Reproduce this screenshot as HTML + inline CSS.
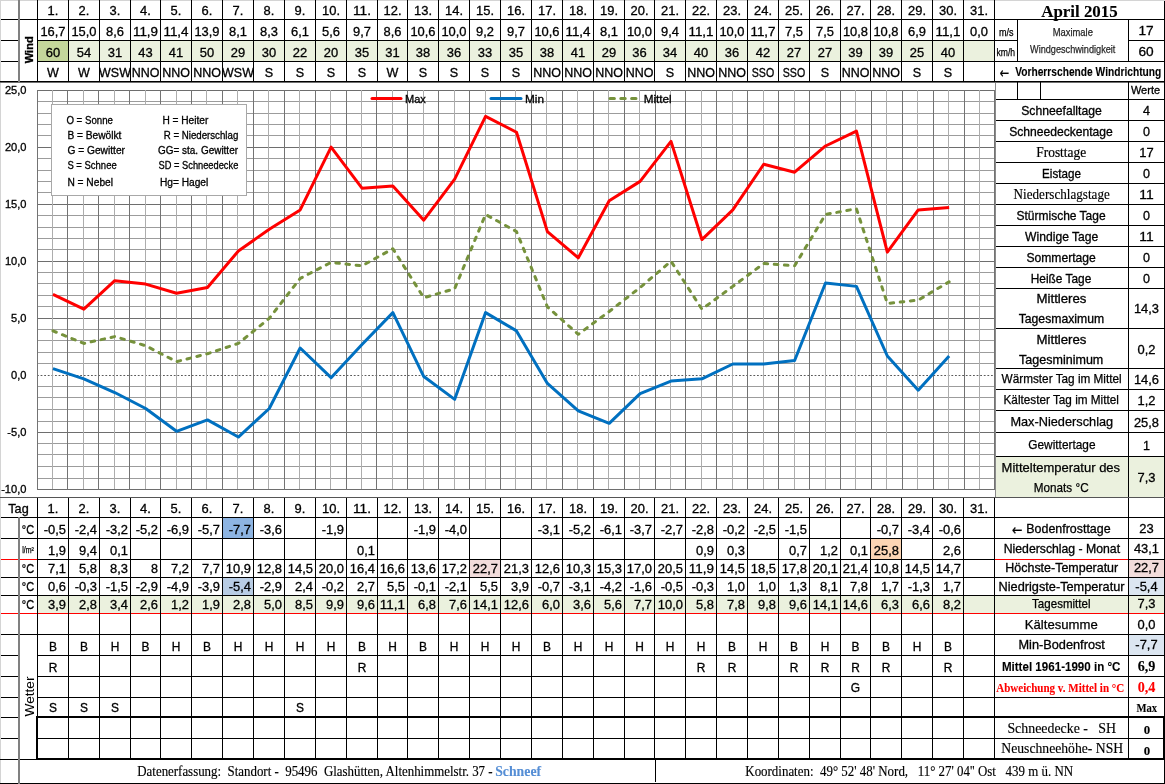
<!DOCTYPE html>
<html><head><meta charset="utf-8"><title>April 2015</title>
<style>html,body{margin:0;padding:0;background:#fff;overflow:hidden}svg{display:block}text{shape-rendering:auto;white-space:pre}polyline,line{shape-rendering:auto}</style>
</head><body>
<svg width="1165" height="784" viewBox="0 0 1165 784" shape-rendering="crispEdges"><rect x="38" y="41" width="30" height="20" fill="#c4d79b"/>
<rect x="69" y="41" width="30" height="20" fill="#ebf1de"/>
<rect x="100" y="41" width="30" height="20" fill="#ebf1de"/>
<rect x="131" y="41" width="29" height="20" fill="#ebf1de"/>
<rect x="161" y="41" width="30" height="20" fill="#ebf1de"/>
<rect x="192" y="41" width="30" height="20" fill="#ebf1de"/>
<rect x="223" y="41" width="30" height="20" fill="#ebf1de"/>
<rect x="254" y="41" width="30" height="20" fill="#ebf1de"/>
<rect x="285" y="41" width="30" height="20" fill="#ebf1de"/>
<rect x="316" y="41" width="30" height="20" fill="#ebf1de"/>
<rect x="347" y="41" width="30" height="20" fill="#ebf1de"/>
<rect x="378" y="41" width="29" height="20" fill="#ebf1de"/>
<rect x="408" y="41" width="30" height="20" fill="#ebf1de"/>
<rect x="439" y="41" width="30" height="20" fill="#ebf1de"/>
<rect x="470" y="41" width="30" height="20" fill="#ebf1de"/>
<rect x="501" y="41" width="30" height="20" fill="#ebf1de"/>
<rect x="532" y="41" width="30" height="20" fill="#ebf1de"/>
<rect x="563" y="41" width="30" height="20" fill="#ebf1de"/>
<rect x="594" y="41" width="30" height="20" fill="#ebf1de"/>
<rect x="625" y="41" width="29" height="20" fill="#ebf1de"/>
<rect x="655" y="41" width="30" height="20" fill="#ebf1de"/>
<rect x="686" y="41" width="30" height="20" fill="#ebf1de"/>
<rect x="717" y="41" width="30" height="20" fill="#ebf1de"/>
<rect x="748" y="41" width="30" height="20" fill="#ebf1de"/>
<rect x="779" y="41" width="30" height="20" fill="#ebf1de"/>
<rect x="810" y="41" width="30" height="20" fill="#ebf1de"/>
<rect x="841" y="41" width="29" height="20" fill="#ebf1de"/>
<rect x="871" y="41" width="30" height="20" fill="#ebf1de"/>
<rect x="902" y="41" width="30" height="20" fill="#ebf1de"/>
<rect x="933" y="41" width="30" height="20" fill="#ebf1de"/>
<rect x="964" y="41" width="30" height="20" fill="#ebf1de"/>
<rect x="38" y="596" width="30" height="17" fill="#ebf1de"/>
<rect x="69" y="596" width="30" height="17" fill="#ebf1de"/>
<rect x="100" y="596" width="30" height="17" fill="#ebf1de"/>
<rect x="131" y="596" width="29" height="17" fill="#ebf1de"/>
<rect x="161" y="596" width="30" height="17" fill="#ebf1de"/>
<rect x="192" y="596" width="30" height="17" fill="#ebf1de"/>
<rect x="223" y="596" width="30" height="17" fill="#ebf1de"/>
<rect x="254" y="596" width="30" height="17" fill="#ebf1de"/>
<rect x="285" y="596" width="30" height="17" fill="#ebf1de"/>
<rect x="316" y="596" width="30" height="17" fill="#ebf1de"/>
<rect x="347" y="596" width="30" height="17" fill="#ebf1de"/>
<rect x="378" y="596" width="29" height="17" fill="#ebf1de"/>
<rect x="408" y="596" width="30" height="17" fill="#ebf1de"/>
<rect x="439" y="596" width="30" height="17" fill="#ebf1de"/>
<rect x="470" y="596" width="30" height="17" fill="#ebf1de"/>
<rect x="501" y="596" width="30" height="17" fill="#ebf1de"/>
<rect x="532" y="596" width="30" height="17" fill="#ebf1de"/>
<rect x="563" y="596" width="30" height="17" fill="#ebf1de"/>
<rect x="594" y="596" width="30" height="17" fill="#ebf1de"/>
<rect x="625" y="596" width="29" height="17" fill="#ebf1de"/>
<rect x="655" y="596" width="30" height="17" fill="#ebf1de"/>
<rect x="686" y="596" width="30" height="17" fill="#ebf1de"/>
<rect x="717" y="596" width="30" height="17" fill="#ebf1de"/>
<rect x="748" y="596" width="30" height="17" fill="#ebf1de"/>
<rect x="779" y="596" width="30" height="17" fill="#ebf1de"/>
<rect x="810" y="596" width="30" height="17" fill="#ebf1de"/>
<rect x="841" y="596" width="29" height="17" fill="#ebf1de"/>
<rect x="871" y="596" width="30" height="17" fill="#ebf1de"/>
<rect x="902" y="596" width="30" height="17" fill="#ebf1de"/>
<rect x="933" y="596" width="30" height="17" fill="#ebf1de"/>
<rect x="964" y="596" width="30" height="17" fill="#ebf1de"/>
<rect x="995" y="596" width="133" height="17" fill="#ebf1de"/>
<rect x="1129" y="596" width="35" height="17" fill="#ebf1de"/>
<rect x="223" y="518" width="30" height="20" fill="#8db4e2"/>
<rect x="223" y="578" width="30" height="17" fill="#b8cce4"/>
<rect x="470" y="560" width="30" height="17" fill="#f2dcdb"/>
<rect x="871" y="539" width="30" height="20" fill="#fcd5b4"/>
<rect x="1129" y="560" width="35" height="17" fill="#f2dcdb"/>
<rect x="1129" y="578" width="35" height="17" fill="#dce6f1"/>
<rect x="1129" y="635" width="35" height="20" fill="#dce6f1"/>
<rect x="996" y="457" width="168" height="40" fill="#ebf1de"/>
<rect x="37" y="489" width="957" height="1" fill="#6e6e6e"/>
<rect x="37" y="478" width="957" height="1" fill="#9c9c9c"/>
<rect x="37" y="466" width="957" height="1" fill="#9c9c9c"/>
<rect x="37" y="454" width="957" height="1" fill="#9c9c9c"/>
<rect x="37" y="443" width="957" height="1" fill="#9c9c9c"/>
<rect x="37" y="432" width="957" height="1" fill="#6e6e6e"/>
<rect x="37" y="421" width="957" height="1" fill="#9c9c9c"/>
<rect x="37" y="409" width="957" height="1" fill="#9c9c9c"/>
<rect x="37" y="397" width="957" height="1" fill="#9c9c9c"/>
<rect x="37" y="386" width="957" height="1" fill="#9c9c9c"/>
<rect x="37" y="363" width="957" height="1" fill="#9c9c9c"/>
<rect x="37" y="352" width="957" height="1" fill="#9c9c9c"/>
<rect x="37" y="340" width="957" height="1" fill="#9c9c9c"/>
<rect x="37" y="329" width="957" height="1" fill="#9c9c9c"/>
<rect x="37" y="318" width="957" height="1" fill="#6e6e6e"/>
<rect x="37" y="306" width="957" height="1" fill="#9c9c9c"/>
<rect x="37" y="295" width="957" height="1" fill="#9c9c9c"/>
<rect x="37" y="283" width="957" height="1" fill="#9c9c9c"/>
<rect x="37" y="272" width="957" height="1" fill="#9c9c9c"/>
<rect x="37" y="261" width="957" height="1" fill="#6e6e6e"/>
<rect x="37" y="249" width="957" height="1" fill="#9c9c9c"/>
<rect x="37" y="238" width="957" height="1" fill="#9c9c9c"/>
<rect x="37" y="227" width="957" height="1" fill="#9c9c9c"/>
<rect x="37" y="215" width="957" height="1" fill="#9c9c9c"/>
<rect x="37" y="204" width="957" height="1" fill="#6e6e6e"/>
<rect x="37" y="192" width="957" height="1" fill="#9c9c9c"/>
<rect x="37" y="181" width="957" height="1" fill="#9c9c9c"/>
<rect x="37" y="170" width="957" height="1" fill="#9c9c9c"/>
<rect x="37" y="158" width="957" height="1" fill="#9c9c9c"/>
<rect x="37" y="147" width="957" height="1" fill="#6e6e6e"/>
<rect x="37" y="135" width="957" height="1" fill="#9c9c9c"/>
<rect x="37" y="124" width="957" height="1" fill="#9c9c9c"/>
<rect x="37" y="113" width="957" height="1" fill="#9c9c9c"/>
<rect x="37" y="101" width="957" height="1" fill="#9c9c9c"/>
<rect x="37" y="90" width="957" height="1" fill="#6e6e6e"/>
<line x1="37" y1="375.5" x2="994" y2="375.5" stroke="#5a5a5a" stroke-width="1" stroke-dasharray="1.8,1.8"/>
<rect x="52" y="90" width="1" height="399" fill="#adadad"/>
<rect x="83" y="90" width="1" height="399" fill="#adadad"/>
<rect x="114" y="90" width="1" height="399" fill="#adadad"/>
<rect x="145" y="90" width="1" height="399" fill="#adadad"/>
<rect x="176" y="90" width="1" height="399" fill="#adadad"/>
<rect x="206" y="90" width="1" height="399" fill="#adadad"/>
<rect x="237" y="90" width="1" height="399" fill="#adadad"/>
<rect x="268" y="90" width="1" height="399" fill="#adadad"/>
<rect x="299" y="90" width="1" height="399" fill="#adadad"/>
<rect x="330" y="90" width="1" height="399" fill="#adadad"/>
<rect x="361" y="90" width="1" height="399" fill="#adadad"/>
<rect x="392" y="90" width="1" height="399" fill="#adadad"/>
<rect x="423" y="90" width="1" height="399" fill="#adadad"/>
<rect x="454" y="90" width="1" height="399" fill="#adadad"/>
<rect x="485" y="90" width="1" height="399" fill="#adadad"/>
<rect x="515" y="90" width="1" height="399" fill="#adadad"/>
<rect x="546" y="90" width="1" height="399" fill="#adadad"/>
<rect x="577" y="90" width="1" height="399" fill="#adadad"/>
<rect x="608" y="90" width="1" height="399" fill="#adadad"/>
<rect x="639" y="90" width="1" height="399" fill="#adadad"/>
<rect x="670" y="90" width="1" height="399" fill="#adadad"/>
<rect x="701" y="90" width="1" height="399" fill="#adadad"/>
<rect x="732" y="90" width="1" height="399" fill="#adadad"/>
<rect x="763" y="90" width="1" height="399" fill="#adadad"/>
<rect x="794" y="90" width="1" height="399" fill="#adadad"/>
<rect x="825" y="90" width="1" height="399" fill="#adadad"/>
<rect x="855" y="90" width="1" height="399" fill="#adadad"/>
<rect x="886" y="90" width="1" height="399" fill="#adadad"/>
<rect x="917" y="90" width="1" height="399" fill="#adadad"/>
<rect x="948" y="90" width="1" height="399" fill="#adadad"/>
<rect x="979" y="90" width="1" height="399" fill="#adadad"/>
<rect x="37" y="90" width="1" height="400" fill="#737373"/>
<rect x="67" y="90" width="1" height="400" fill="#737373"/>
<rect x="98" y="90" width="1" height="400" fill="#737373"/>
<rect x="129" y="90" width="1" height="400" fill="#737373"/>
<rect x="160" y="90" width="1" height="400" fill="#737373"/>
<rect x="191" y="90" width="1" height="400" fill="#737373"/>
<rect x="222" y="90" width="1" height="400" fill="#737373"/>
<rect x="253" y="90" width="1" height="400" fill="#737373"/>
<rect x="284" y="90" width="1" height="400" fill="#737373"/>
<rect x="315" y="90" width="1" height="400" fill="#737373"/>
<rect x="346" y="90" width="1" height="400" fill="#737373"/>
<rect x="376" y="90" width="1" height="400" fill="#737373"/>
<rect x="407" y="90" width="1" height="400" fill="#737373"/>
<rect x="438" y="90" width="1" height="400" fill="#737373"/>
<rect x="469" y="90" width="1" height="400" fill="#737373"/>
<rect x="500" y="90" width="1" height="400" fill="#737373"/>
<rect x="531" y="90" width="1" height="400" fill="#737373"/>
<rect x="562" y="90" width="1" height="400" fill="#737373"/>
<rect x="593" y="90" width="1" height="400" fill="#737373"/>
<rect x="624" y="90" width="1" height="400" fill="#737373"/>
<rect x="655" y="90" width="1" height="400" fill="#737373"/>
<rect x="685" y="90" width="1" height="400" fill="#737373"/>
<rect x="716" y="90" width="1" height="400" fill="#737373"/>
<rect x="747" y="90" width="1" height="400" fill="#737373"/>
<rect x="778" y="90" width="1" height="400" fill="#737373"/>
<rect x="809" y="90" width="1" height="400" fill="#737373"/>
<rect x="840" y="90" width="1" height="400" fill="#737373"/>
<rect x="871" y="90" width="1" height="400" fill="#737373"/>
<rect x="902" y="90" width="1" height="400" fill="#737373"/>
<rect x="933" y="90" width="1" height="400" fill="#737373"/>
<rect x="964" y="90" width="1" height="400" fill="#737373"/>
<rect x="994" y="90" width="1" height="400" fill="#737373"/>
<rect x="51.5" y="104.5" width="195" height="91" fill="#fff" stroke="#a8a8a8" stroke-width="1"/>
<text x="66.40" y="123.70" font-family="Liberation Sans, sans-serif" font-size="10.44" textLength="46.50" lengthAdjust="spacingAndGlyphs" stroke="#000" stroke-width="0.3">O = Sonne</text>
<text x="67.40" y="138.80" font-family="Liberation Sans, sans-serif" font-size="10.44" textLength="54.00" lengthAdjust="spacingAndGlyphs" stroke="#000" stroke-width="0.3">B = Bewölkt</text>
<text x="67.40" y="153.50" font-family="Liberation Sans, sans-serif" font-size="10.44" textLength="57.60" lengthAdjust="spacingAndGlyphs" stroke="#000" stroke-width="0.3">G = Gewitter</text>
<text x="67.40" y="168.70" font-family="Liberation Sans, sans-serif" font-size="10.44" textLength="49.30" lengthAdjust="spacingAndGlyphs" stroke="#000" stroke-width="0.3">S = Schnee</text>
<text x="67.40" y="185.60" font-family="Liberation Sans, sans-serif" font-size="10.44" textLength="45.60" lengthAdjust="spacingAndGlyphs" stroke="#000" stroke-width="0.3">N = Nebel</text>
<text x="162.40" y="123.70" font-family="Liberation Sans, sans-serif" font-size="10.44" textLength="45.90" lengthAdjust="spacingAndGlyphs" stroke="#000" stroke-width="0.3">H = Heiter</text>
<text x="163.70" y="138.80" font-family="Liberation Sans, sans-serif" font-size="10.44" textLength="74.60" lengthAdjust="spacingAndGlyphs" stroke="#000" stroke-width="0.3">R = Niederschlag</text>
<text x="158.00" y="153.50" font-family="Liberation Sans, sans-serif" font-size="10.44" textLength="80.00" lengthAdjust="spacingAndGlyphs" stroke="#000" stroke-width="0.3">GG= sta. Gewitter</text>
<text x="158.60" y="168.70" font-family="Liberation Sans, sans-serif" font-size="10.44" textLength="79.70" lengthAdjust="spacingAndGlyphs" stroke="#000" stroke-width="0.3">SD = Schneedecke</text>
<text x="159.90" y="185.60" font-family="Liberation Sans, sans-serif" font-size="10.44" textLength="48.40" lengthAdjust="spacingAndGlyphs" stroke="#000" stroke-width="0.3">Hg= Hagel</text>
<polyline points="52.95,330.89 83.85,343.44 114.76,336.59 145.66,345.72 176.56,361.70 207.47,353.71 238.37,343.44 269.27,318.33 300.18,278.38 331.08,262.40 361.98,265.83 392.88,248.70 423.79,297.78 454.69,288.65 485.59,214.46 516.50,231.58 547.40,306.92 578.30,334.31 609.21,311.48 640.11,287.51 671.01,261.26 701.91,309.20 732.82,286.37 763.72,263.54 794.62,265.83 825.53,214.46 856.43,208.76 887.33,303.49 918.24,300.07 949.14,281.81" fill="none" stroke="#76923c" stroke-width="3" stroke-dasharray="3.6,6.6" stroke-linecap="round" stroke-linejoin="round"/>
<polyline points="52.95,368.55 83.85,378.82 114.76,392.52 145.66,408.50 176.56,431.33 207.47,419.91 238.37,437.04 269.27,408.50 300.18,348.01 331.08,377.68 361.98,344.58 392.88,312.62 423.79,376.54 454.69,399.37 485.59,312.62 516.50,330.89 547.40,383.39 578.30,410.78 609.21,423.34 640.11,393.66 671.01,381.11 701.91,378.82 732.82,363.99 763.72,363.99 794.62,360.56 825.53,282.95 856.43,286.37 887.33,356.00 918.24,390.24 949.14,356.00" fill="none" stroke="#0070c0" stroke-width="3" stroke-linejoin="round"/>
<polyline points="52.95,294.36 83.85,309.20 114.76,280.66 145.66,284.09 176.56,293.22 207.47,287.51 238.37,250.99 269.27,229.30 300.18,209.90 331.08,147.12 361.98,188.21 392.88,185.93 423.79,220.17 454.69,179.08 485.59,116.30 516.50,132.28 547.40,231.58 578.30,257.84 609.21,200.77 640.11,181.36 671.01,141.41 701.91,239.57 732.82,209.90 763.72,164.24 794.62,172.23 825.53,145.98 856.43,131.14 887.33,252.13 918.24,209.90 949.14,207.61" fill="none" stroke="#ff0000" stroke-width="3" stroke-linejoin="round"/>
<line x1="372" y1="98.5" x2="401" y2="98.5" stroke="#ff0000" stroke-width="3" stroke-linecap="round"/>
<line x1="491" y1="98.5" x2="521" y2="98.5" stroke="#0070c0" stroke-width="3" stroke-linecap="round"/>
<line x1="610" y1="98.5" x2="636" y2="98.5" stroke="#76923c" stroke-width="3" stroke-dasharray="4.4,6.4" stroke-linecap="round"/>
<text x="405.00" y="102.70" font-family="Liberation Sans, sans-serif" font-size="10.44" textLength="20.85" lengthAdjust="spacingAndGlyphs" stroke="#000" stroke-width="0.3">Max</text>
<text x="525.00" y="102.70" font-family="Liberation Sans, sans-serif" font-size="10.44" textLength="19.00" lengthAdjust="spacingAndGlyphs" stroke="#000" stroke-width="0.3">Min</text>
<text x="643.70" y="102.70" font-family="Liberation Sans, sans-serif" font-size="10.44" textLength="28.00" lengthAdjust="spacingAndGlyphs" stroke="#000" stroke-width="0.3">Mittel</text>
<text x="26.50" y="93.95" font-family="Liberation Sans, sans-serif" font-size="10.80" text-anchor="end" textLength="21.59" lengthAdjust="spacingAndGlyphs" stroke="#000" stroke-width="0.3">25,0</text>
<text x="26.50" y="151.02" font-family="Liberation Sans, sans-serif" font-size="10.80" text-anchor="end" textLength="21.59" lengthAdjust="spacingAndGlyphs" stroke="#000" stroke-width="0.3">20,0</text>
<text x="26.50" y="208.09" font-family="Liberation Sans, sans-serif" font-size="10.80" text-anchor="end" textLength="21.59" lengthAdjust="spacingAndGlyphs" stroke="#000" stroke-width="0.3">15,0</text>
<text x="26.50" y="265.16" font-family="Liberation Sans, sans-serif" font-size="10.80" text-anchor="end" textLength="21.59" lengthAdjust="spacingAndGlyphs" stroke="#000" stroke-width="0.3">10,0</text>
<text x="26.50" y="322.23" font-family="Liberation Sans, sans-serif" font-size="10.80" text-anchor="end" textLength="15.41" lengthAdjust="spacingAndGlyphs" stroke="#000" stroke-width="0.3">5,0</text>
<text x="26.50" y="379.30" font-family="Liberation Sans, sans-serif" font-size="10.80" text-anchor="end" textLength="15.41" lengthAdjust="spacingAndGlyphs" stroke="#000" stroke-width="0.3">0,0</text>
<text x="26.50" y="436.37" font-family="Liberation Sans, sans-serif" font-size="10.80" text-anchor="end" textLength="19.15" lengthAdjust="spacingAndGlyphs" stroke="#000" stroke-width="0.3">-5,0</text>
<text x="26.50" y="493.44" font-family="Liberation Sans, sans-serif" font-size="10.80" text-anchor="end" textLength="25.33" lengthAdjust="spacingAndGlyphs" stroke="#000" stroke-width="0.3">-10,0</text>
<rect x="0" y="0" width="1165" height="1" fill="#d4d4d4"/>
<rect x="0" y="0" width="1" height="784" fill="#d4d4d4"/>
<rect x="1" y="19" width="1163" height="1" fill="#000"/>
<rect x="1" y="40" width="17" height="1" fill="#000"/>
<rect x="1" y="61" width="17" height="1" fill="#000"/>
<rect x="37" y="40" width="957" height="1" fill="#000"/>
<rect x="37" y="61" width="1127" height="1" fill="#000"/>
<rect x="994" y="40" width="23" height="1" fill="#000"/>
<rect x="1128" y="40" width="36" height="1" fill="#000"/>
<rect x="0" y="81" width="1165" height="1" fill="#000"/>
<rect x="0" y="82" width="1165" height="1" fill="#707070"/>
<rect x="18" y="0" width="2" height="82" fill="#808080"/>
<rect x="37" y="0" width="1" height="82" fill="#000"/>
<rect x="68" y="0" width="1" height="82" fill="#000"/>
<rect x="99" y="0" width="1" height="82" fill="#000"/>
<rect x="130" y="0" width="1" height="82" fill="#000"/>
<rect x="160" y="0" width="1" height="82" fill="#000"/>
<rect x="191" y="0" width="1" height="82" fill="#000"/>
<rect x="222" y="0" width="1" height="82" fill="#000"/>
<rect x="253" y="0" width="1" height="82" fill="#000"/>
<rect x="284" y="0" width="1" height="82" fill="#000"/>
<rect x="315" y="0" width="1" height="82" fill="#000"/>
<rect x="346" y="0" width="1" height="82" fill="#000"/>
<rect x="377" y="0" width="1" height="82" fill="#000"/>
<rect x="407" y="0" width="1" height="82" fill="#000"/>
<rect x="438" y="0" width="1" height="82" fill="#000"/>
<rect x="469" y="0" width="1" height="82" fill="#000"/>
<rect x="500" y="0" width="1" height="82" fill="#000"/>
<rect x="531" y="0" width="1" height="82" fill="#000"/>
<rect x="562" y="0" width="1" height="82" fill="#000"/>
<rect x="593" y="0" width="1" height="82" fill="#000"/>
<rect x="624" y="0" width="1" height="82" fill="#000"/>
<rect x="654" y="0" width="1" height="82" fill="#000"/>
<rect x="685" y="0" width="1" height="82" fill="#000"/>
<rect x="716" y="0" width="1" height="82" fill="#000"/>
<rect x="747" y="0" width="1" height="82" fill="#000"/>
<rect x="778" y="0" width="1" height="82" fill="#000"/>
<rect x="809" y="0" width="1" height="82" fill="#000"/>
<rect x="840" y="0" width="1" height="82" fill="#000"/>
<rect x="870" y="0" width="1" height="82" fill="#000"/>
<rect x="901" y="0" width="1" height="82" fill="#000"/>
<rect x="932" y="0" width="1" height="82" fill="#000"/>
<rect x="963" y="0" width="1" height="82" fill="#000"/>
<rect x="994" y="0" width="1" height="82" fill="#000"/>
<rect x="1017" y="19" width="1" height="42" fill="#000"/>
<rect x="1128" y="19" width="1" height="42" fill="#000"/>
<rect x="1164" y="1" width="1" height="783" fill="#000"/>
<text x="53.00" y="14.80" font-family="Liberation Sans, sans-serif" font-size="12.57" text-anchor="middle" textLength="10.78" lengthAdjust="spacingAndGlyphs" stroke="#000" stroke-width="0.3">1.</text>
<text x="53.00" y="36.00" font-family="Liberation Sans, sans-serif" font-size="12.57" text-anchor="middle" textLength="25.13" lengthAdjust="spacingAndGlyphs" stroke="#000" stroke-width="0.3">16,7</text>
<text x="53.00" y="56.80" font-family="Liberation Sans, sans-serif" font-size="12.57" text-anchor="middle" textLength="14.39" lengthAdjust="spacingAndGlyphs" stroke="#000" stroke-width="0.3">60</text>
<text x="53.00" y="77.00" font-family="Liberation Sans, sans-serif" font-size="12.57" text-anchor="middle" stroke="#000" stroke-width="0.3">W</text>
<text x="84.00" y="14.80" font-family="Liberation Sans, sans-serif" font-size="12.57" text-anchor="middle" textLength="10.78" lengthAdjust="spacingAndGlyphs" stroke="#000" stroke-width="0.3">2.</text>
<text x="84.00" y="36.00" font-family="Liberation Sans, sans-serif" font-size="12.57" text-anchor="middle" textLength="25.13" lengthAdjust="spacingAndGlyphs" stroke="#000" stroke-width="0.3">15,0</text>
<text x="84.00" y="56.80" font-family="Liberation Sans, sans-serif" font-size="12.57" text-anchor="middle" textLength="14.39" lengthAdjust="spacingAndGlyphs" stroke="#000" stroke-width="0.3">54</text>
<text x="84.00" y="77.00" font-family="Liberation Sans, sans-serif" font-size="12.57" text-anchor="middle" stroke="#000" stroke-width="0.3">W</text>
<text x="115.00" y="14.80" font-family="Liberation Sans, sans-serif" font-size="12.57" text-anchor="middle" textLength="10.78" lengthAdjust="spacingAndGlyphs" stroke="#000" stroke-width="0.3">3.</text>
<text x="115.00" y="36.00" font-family="Liberation Sans, sans-serif" font-size="12.57" text-anchor="middle" textLength="17.94" lengthAdjust="spacingAndGlyphs" stroke="#000" stroke-width="0.3">8,6</text>
<text x="115.00" y="56.80" font-family="Liberation Sans, sans-serif" font-size="12.57" text-anchor="middle" textLength="14.39" lengthAdjust="spacingAndGlyphs" stroke="#000" stroke-width="0.3">31</text>
<text x="115.00" y="77.00" font-family="Liberation Sans, sans-serif" font-size="12.57" text-anchor="middle" textLength="31.79" lengthAdjust="spacingAndGlyphs" stroke="#000" stroke-width="0.3">WSW</text>
<text x="145.50" y="14.80" font-family="Liberation Sans, sans-serif" font-size="12.57" text-anchor="middle" textLength="10.78" lengthAdjust="spacingAndGlyphs" stroke="#000" stroke-width="0.3">4.</text>
<text x="145.50" y="36.00" font-family="Liberation Sans, sans-serif" font-size="12.57" text-anchor="middle" textLength="25.13" lengthAdjust="spacingAndGlyphs" stroke="#000" stroke-width="0.3">11,9</text>
<text x="145.50" y="56.80" font-family="Liberation Sans, sans-serif" font-size="12.57" text-anchor="middle" textLength="14.39" lengthAdjust="spacingAndGlyphs" stroke="#000" stroke-width="0.3">43</text>
<text x="145.50" y="77.00" font-family="Liberation Sans, sans-serif" font-size="12.57" text-anchor="middle" textLength="27.73" lengthAdjust="spacingAndGlyphs" stroke="#000" stroke-width="0.3">NNO</text>
<text x="176.00" y="14.80" font-family="Liberation Sans, sans-serif" font-size="12.57" text-anchor="middle" textLength="10.78" lengthAdjust="spacingAndGlyphs" stroke="#000" stroke-width="0.3">5.</text>
<text x="176.00" y="36.00" font-family="Liberation Sans, sans-serif" font-size="12.57" text-anchor="middle" textLength="25.13" lengthAdjust="spacingAndGlyphs" stroke="#000" stroke-width="0.3">11,4</text>
<text x="176.00" y="56.80" font-family="Liberation Sans, sans-serif" font-size="12.57" text-anchor="middle" textLength="14.39" lengthAdjust="spacingAndGlyphs" stroke="#000" stroke-width="0.3">41</text>
<text x="176.00" y="77.00" font-family="Liberation Sans, sans-serif" font-size="12.57" text-anchor="middle" textLength="27.73" lengthAdjust="spacingAndGlyphs" stroke="#000" stroke-width="0.3">NNO</text>
<text x="207.00" y="14.80" font-family="Liberation Sans, sans-serif" font-size="12.57" text-anchor="middle" textLength="10.78" lengthAdjust="spacingAndGlyphs" stroke="#000" stroke-width="0.3">6.</text>
<text x="207.00" y="36.00" font-family="Liberation Sans, sans-serif" font-size="12.57" text-anchor="middle" textLength="25.13" lengthAdjust="spacingAndGlyphs" stroke="#000" stroke-width="0.3">13,9</text>
<text x="207.00" y="56.80" font-family="Liberation Sans, sans-serif" font-size="12.57" text-anchor="middle" textLength="14.39" lengthAdjust="spacingAndGlyphs" stroke="#000" stroke-width="0.3">50</text>
<text x="207.00" y="77.00" font-family="Liberation Sans, sans-serif" font-size="12.57" text-anchor="middle" textLength="27.73" lengthAdjust="spacingAndGlyphs" stroke="#000" stroke-width="0.3">NNO</text>
<text x="238.00" y="14.80" font-family="Liberation Sans, sans-serif" font-size="12.57" text-anchor="middle" textLength="10.78" lengthAdjust="spacingAndGlyphs" stroke="#000" stroke-width="0.3">7.</text>
<text x="238.00" y="36.00" font-family="Liberation Sans, sans-serif" font-size="12.57" text-anchor="middle" textLength="17.94" lengthAdjust="spacingAndGlyphs" stroke="#000" stroke-width="0.3">8,1</text>
<text x="238.00" y="56.80" font-family="Liberation Sans, sans-serif" font-size="12.57" text-anchor="middle" textLength="14.39" lengthAdjust="spacingAndGlyphs" stroke="#000" stroke-width="0.3">29</text>
<text x="238.00" y="77.00" font-family="Liberation Sans, sans-serif" font-size="12.57" text-anchor="middle" textLength="31.79" lengthAdjust="spacingAndGlyphs" stroke="#000" stroke-width="0.3">WSW</text>
<text x="269.00" y="14.80" font-family="Liberation Sans, sans-serif" font-size="12.57" text-anchor="middle" textLength="10.78" lengthAdjust="spacingAndGlyphs" stroke="#000" stroke-width="0.3">8.</text>
<text x="269.00" y="36.00" font-family="Liberation Sans, sans-serif" font-size="12.57" text-anchor="middle" textLength="17.94" lengthAdjust="spacingAndGlyphs" stroke="#000" stroke-width="0.3">8,3</text>
<text x="269.00" y="56.80" font-family="Liberation Sans, sans-serif" font-size="12.57" text-anchor="middle" textLength="14.39" lengthAdjust="spacingAndGlyphs" stroke="#000" stroke-width="0.3">30</text>
<text x="269.00" y="77.00" font-family="Liberation Sans, sans-serif" font-size="12.57" text-anchor="middle" stroke="#000" stroke-width="0.3">S</text>
<text x="300.00" y="14.80" font-family="Liberation Sans, sans-serif" font-size="12.57" text-anchor="middle" textLength="10.78" lengthAdjust="spacingAndGlyphs" stroke="#000" stroke-width="0.3">9.</text>
<text x="300.00" y="36.00" font-family="Liberation Sans, sans-serif" font-size="12.57" text-anchor="middle" textLength="17.94" lengthAdjust="spacingAndGlyphs" stroke="#000" stroke-width="0.3">6,1</text>
<text x="300.00" y="56.80" font-family="Liberation Sans, sans-serif" font-size="12.57" text-anchor="middle" textLength="14.39" lengthAdjust="spacingAndGlyphs" stroke="#000" stroke-width="0.3">22</text>
<text x="300.00" y="77.00" font-family="Liberation Sans, sans-serif" font-size="12.57" text-anchor="middle" stroke="#000" stroke-width="0.3">S</text>
<text x="331.00" y="14.80" font-family="Liberation Sans, sans-serif" font-size="12.57" text-anchor="middle" textLength="17.98" lengthAdjust="spacingAndGlyphs" stroke="#000" stroke-width="0.3">10.</text>
<text x="331.00" y="36.00" font-family="Liberation Sans, sans-serif" font-size="12.57" text-anchor="middle" textLength="17.94" lengthAdjust="spacingAndGlyphs" stroke="#000" stroke-width="0.3">5,6</text>
<text x="331.00" y="56.80" font-family="Liberation Sans, sans-serif" font-size="12.57" text-anchor="middle" textLength="14.39" lengthAdjust="spacingAndGlyphs" stroke="#000" stroke-width="0.3">20</text>
<text x="331.00" y="77.00" font-family="Liberation Sans, sans-serif" font-size="12.57" text-anchor="middle" stroke="#000" stroke-width="0.3">S</text>
<text x="362.00" y="14.80" font-family="Liberation Sans, sans-serif" font-size="12.57" text-anchor="middle" textLength="17.98" lengthAdjust="spacingAndGlyphs" stroke="#000" stroke-width="0.3">11.</text>
<text x="362.00" y="36.00" font-family="Liberation Sans, sans-serif" font-size="12.57" text-anchor="middle" textLength="17.94" lengthAdjust="spacingAndGlyphs" stroke="#000" stroke-width="0.3">9,7</text>
<text x="362.00" y="56.80" font-family="Liberation Sans, sans-serif" font-size="12.57" text-anchor="middle" textLength="14.39" lengthAdjust="spacingAndGlyphs" stroke="#000" stroke-width="0.3">35</text>
<text x="362.00" y="77.00" font-family="Liberation Sans, sans-serif" font-size="12.57" text-anchor="middle" stroke="#000" stroke-width="0.3">S</text>
<text x="392.50" y="14.80" font-family="Liberation Sans, sans-serif" font-size="12.57" text-anchor="middle" textLength="17.98" lengthAdjust="spacingAndGlyphs" stroke="#000" stroke-width="0.3">12.</text>
<text x="392.50" y="36.00" font-family="Liberation Sans, sans-serif" font-size="12.57" text-anchor="middle" textLength="17.94" lengthAdjust="spacingAndGlyphs" stroke="#000" stroke-width="0.3">8,6</text>
<text x="392.50" y="56.80" font-family="Liberation Sans, sans-serif" font-size="12.57" text-anchor="middle" textLength="14.39" lengthAdjust="spacingAndGlyphs" stroke="#000" stroke-width="0.3">31</text>
<text x="392.50" y="77.00" font-family="Liberation Sans, sans-serif" font-size="12.57" text-anchor="middle" stroke="#000" stroke-width="0.3">W</text>
<text x="423.00" y="14.80" font-family="Liberation Sans, sans-serif" font-size="12.57" text-anchor="middle" textLength="17.98" lengthAdjust="spacingAndGlyphs" stroke="#000" stroke-width="0.3">13.</text>
<text x="423.00" y="36.00" font-family="Liberation Sans, sans-serif" font-size="12.57" text-anchor="middle" textLength="25.13" lengthAdjust="spacingAndGlyphs" stroke="#000" stroke-width="0.3">10,6</text>
<text x="423.00" y="56.80" font-family="Liberation Sans, sans-serif" font-size="12.57" text-anchor="middle" textLength="14.39" lengthAdjust="spacingAndGlyphs" stroke="#000" stroke-width="0.3">38</text>
<text x="423.00" y="77.00" font-family="Liberation Sans, sans-serif" font-size="12.57" text-anchor="middle" stroke="#000" stroke-width="0.3">S</text>
<text x="454.00" y="14.80" font-family="Liberation Sans, sans-serif" font-size="12.57" text-anchor="middle" textLength="17.98" lengthAdjust="spacingAndGlyphs" stroke="#000" stroke-width="0.3">14.</text>
<text x="454.00" y="36.00" font-family="Liberation Sans, sans-serif" font-size="12.57" text-anchor="middle" textLength="25.13" lengthAdjust="spacingAndGlyphs" stroke="#000" stroke-width="0.3">10,0</text>
<text x="454.00" y="56.80" font-family="Liberation Sans, sans-serif" font-size="12.57" text-anchor="middle" textLength="14.39" lengthAdjust="spacingAndGlyphs" stroke="#000" stroke-width="0.3">36</text>
<text x="454.00" y="77.00" font-family="Liberation Sans, sans-serif" font-size="12.57" text-anchor="middle" stroke="#000" stroke-width="0.3">S</text>
<text x="485.00" y="14.80" font-family="Liberation Sans, sans-serif" font-size="12.57" text-anchor="middle" textLength="17.98" lengthAdjust="spacingAndGlyphs" stroke="#000" stroke-width="0.3">15.</text>
<text x="485.00" y="36.00" font-family="Liberation Sans, sans-serif" font-size="12.57" text-anchor="middle" textLength="17.94" lengthAdjust="spacingAndGlyphs" stroke="#000" stroke-width="0.3">9,2</text>
<text x="485.00" y="56.80" font-family="Liberation Sans, sans-serif" font-size="12.57" text-anchor="middle" textLength="14.39" lengthAdjust="spacingAndGlyphs" stroke="#000" stroke-width="0.3">33</text>
<text x="485.00" y="77.00" font-family="Liberation Sans, sans-serif" font-size="12.57" text-anchor="middle" stroke="#000" stroke-width="0.3">S</text>
<text x="516.00" y="14.80" font-family="Liberation Sans, sans-serif" font-size="12.57" text-anchor="middle" textLength="17.98" lengthAdjust="spacingAndGlyphs" stroke="#000" stroke-width="0.3">16.</text>
<text x="516.00" y="36.00" font-family="Liberation Sans, sans-serif" font-size="12.57" text-anchor="middle" textLength="17.94" lengthAdjust="spacingAndGlyphs" stroke="#000" stroke-width="0.3">9,7</text>
<text x="516.00" y="56.80" font-family="Liberation Sans, sans-serif" font-size="12.57" text-anchor="middle" textLength="14.39" lengthAdjust="spacingAndGlyphs" stroke="#000" stroke-width="0.3">35</text>
<text x="516.00" y="77.00" font-family="Liberation Sans, sans-serif" font-size="12.57" text-anchor="middle" stroke="#000" stroke-width="0.3">S</text>
<text x="547.00" y="14.80" font-family="Liberation Sans, sans-serif" font-size="12.57" text-anchor="middle" textLength="17.98" lengthAdjust="spacingAndGlyphs" stroke="#000" stroke-width="0.3">17.</text>
<text x="547.00" y="36.00" font-family="Liberation Sans, sans-serif" font-size="12.57" text-anchor="middle" textLength="25.13" lengthAdjust="spacingAndGlyphs" stroke="#000" stroke-width="0.3">10,6</text>
<text x="547.00" y="56.80" font-family="Liberation Sans, sans-serif" font-size="12.57" text-anchor="middle" textLength="14.39" lengthAdjust="spacingAndGlyphs" stroke="#000" stroke-width="0.3">38</text>
<text x="547.00" y="77.00" font-family="Liberation Sans, sans-serif" font-size="12.57" text-anchor="middle" textLength="27.73" lengthAdjust="spacingAndGlyphs" stroke="#000" stroke-width="0.3">NNO</text>
<text x="578.00" y="14.80" font-family="Liberation Sans, sans-serif" font-size="12.57" text-anchor="middle" textLength="17.98" lengthAdjust="spacingAndGlyphs" stroke="#000" stroke-width="0.3">18.</text>
<text x="578.00" y="36.00" font-family="Liberation Sans, sans-serif" font-size="12.57" text-anchor="middle" textLength="25.13" lengthAdjust="spacingAndGlyphs" stroke="#000" stroke-width="0.3">11,4</text>
<text x="578.00" y="56.80" font-family="Liberation Sans, sans-serif" font-size="12.57" text-anchor="middle" textLength="14.39" lengthAdjust="spacingAndGlyphs" stroke="#000" stroke-width="0.3">41</text>
<text x="578.00" y="77.00" font-family="Liberation Sans, sans-serif" font-size="12.57" text-anchor="middle" textLength="27.73" lengthAdjust="spacingAndGlyphs" stroke="#000" stroke-width="0.3">NNO</text>
<text x="609.00" y="14.80" font-family="Liberation Sans, sans-serif" font-size="12.57" text-anchor="middle" textLength="17.98" lengthAdjust="spacingAndGlyphs" stroke="#000" stroke-width="0.3">19.</text>
<text x="609.00" y="36.00" font-family="Liberation Sans, sans-serif" font-size="12.57" text-anchor="middle" textLength="17.94" lengthAdjust="spacingAndGlyphs" stroke="#000" stroke-width="0.3">8,1</text>
<text x="609.00" y="56.80" font-family="Liberation Sans, sans-serif" font-size="12.57" text-anchor="middle" textLength="14.39" lengthAdjust="spacingAndGlyphs" stroke="#000" stroke-width="0.3">29</text>
<text x="609.00" y="77.00" font-family="Liberation Sans, sans-serif" font-size="12.57" text-anchor="middle" textLength="27.73" lengthAdjust="spacingAndGlyphs" stroke="#000" stroke-width="0.3">NNO</text>
<text x="639.50" y="14.80" font-family="Liberation Sans, sans-serif" font-size="12.57" text-anchor="middle" textLength="17.98" lengthAdjust="spacingAndGlyphs" stroke="#000" stroke-width="0.3">20.</text>
<text x="639.50" y="36.00" font-family="Liberation Sans, sans-serif" font-size="12.57" text-anchor="middle" textLength="25.13" lengthAdjust="spacingAndGlyphs" stroke="#000" stroke-width="0.3">10,0</text>
<text x="639.50" y="56.80" font-family="Liberation Sans, sans-serif" font-size="12.57" text-anchor="middle" textLength="14.39" lengthAdjust="spacingAndGlyphs" stroke="#000" stroke-width="0.3">36</text>
<text x="639.50" y="77.00" font-family="Liberation Sans, sans-serif" font-size="12.57" text-anchor="middle" textLength="27.73" lengthAdjust="spacingAndGlyphs" stroke="#000" stroke-width="0.3">NNO</text>
<text x="670.00" y="14.80" font-family="Liberation Sans, sans-serif" font-size="12.57" text-anchor="middle" textLength="17.98" lengthAdjust="spacingAndGlyphs" stroke="#000" stroke-width="0.3">21.</text>
<text x="670.00" y="36.00" font-family="Liberation Sans, sans-serif" font-size="12.57" text-anchor="middle" textLength="17.94" lengthAdjust="spacingAndGlyphs" stroke="#000" stroke-width="0.3">9,4</text>
<text x="670.00" y="56.80" font-family="Liberation Sans, sans-serif" font-size="12.57" text-anchor="middle" textLength="14.39" lengthAdjust="spacingAndGlyphs" stroke="#000" stroke-width="0.3">34</text>
<text x="670.00" y="77.00" font-family="Liberation Sans, sans-serif" font-size="12.57" text-anchor="middle" stroke="#000" stroke-width="0.3">S</text>
<text x="701.00" y="14.80" font-family="Liberation Sans, sans-serif" font-size="12.57" text-anchor="middle" textLength="17.98" lengthAdjust="spacingAndGlyphs" stroke="#000" stroke-width="0.3">22.</text>
<text x="701.00" y="36.00" font-family="Liberation Sans, sans-serif" font-size="12.57" text-anchor="middle" textLength="25.13" lengthAdjust="spacingAndGlyphs" stroke="#000" stroke-width="0.3">11,1</text>
<text x="701.00" y="56.80" font-family="Liberation Sans, sans-serif" font-size="12.57" text-anchor="middle" textLength="14.39" lengthAdjust="spacingAndGlyphs" stroke="#000" stroke-width="0.3">40</text>
<text x="701.00" y="77.00" font-family="Liberation Sans, sans-serif" font-size="12.57" text-anchor="middle" textLength="27.73" lengthAdjust="spacingAndGlyphs" stroke="#000" stroke-width="0.3">NNO</text>
<text x="732.00" y="14.80" font-family="Liberation Sans, sans-serif" font-size="12.57" text-anchor="middle" textLength="17.98" lengthAdjust="spacingAndGlyphs" stroke="#000" stroke-width="0.3">23.</text>
<text x="732.00" y="36.00" font-family="Liberation Sans, sans-serif" font-size="12.57" text-anchor="middle" textLength="25.13" lengthAdjust="spacingAndGlyphs" stroke="#000" stroke-width="0.3">10,0</text>
<text x="732.00" y="56.80" font-family="Liberation Sans, sans-serif" font-size="12.57" text-anchor="middle" textLength="14.39" lengthAdjust="spacingAndGlyphs" stroke="#000" stroke-width="0.3">36</text>
<text x="732.00" y="77.00" font-family="Liberation Sans, sans-serif" font-size="12.57" text-anchor="middle" textLength="27.73" lengthAdjust="spacingAndGlyphs" stroke="#000" stroke-width="0.3">NNO</text>
<text x="763.00" y="14.80" font-family="Liberation Sans, sans-serif" font-size="12.57" text-anchor="middle" textLength="17.98" lengthAdjust="spacingAndGlyphs" stroke="#000" stroke-width="0.3">24.</text>
<text x="763.00" y="36.00" font-family="Liberation Sans, sans-serif" font-size="12.57" text-anchor="middle" textLength="25.13" lengthAdjust="spacingAndGlyphs" stroke="#000" stroke-width="0.3">11,7</text>
<text x="763.00" y="56.80" font-family="Liberation Sans, sans-serif" font-size="12.57" text-anchor="middle" textLength="14.39" lengthAdjust="spacingAndGlyphs" stroke="#000" stroke-width="0.3">42</text>
<text x="763.00" y="77.00" font-family="Liberation Sans, sans-serif" font-size="12.57" text-anchor="middle" textLength="22.45" lengthAdjust="spacingAndGlyphs" stroke="#000" stroke-width="0.3">SSO</text>
<text x="794.00" y="14.80" font-family="Liberation Sans, sans-serif" font-size="12.57" text-anchor="middle" textLength="17.98" lengthAdjust="spacingAndGlyphs" stroke="#000" stroke-width="0.3">25.</text>
<text x="794.00" y="36.00" font-family="Liberation Sans, sans-serif" font-size="12.57" text-anchor="middle" textLength="17.94" lengthAdjust="spacingAndGlyphs" stroke="#000" stroke-width="0.3">7,5</text>
<text x="794.00" y="56.80" font-family="Liberation Sans, sans-serif" font-size="12.57" text-anchor="middle" textLength="14.39" lengthAdjust="spacingAndGlyphs" stroke="#000" stroke-width="0.3">27</text>
<text x="794.00" y="77.00" font-family="Liberation Sans, sans-serif" font-size="12.57" text-anchor="middle" textLength="22.45" lengthAdjust="spacingAndGlyphs" stroke="#000" stroke-width="0.3">SSO</text>
<text x="825.00" y="14.80" font-family="Liberation Sans, sans-serif" font-size="12.57" text-anchor="middle" textLength="17.98" lengthAdjust="spacingAndGlyphs" stroke="#000" stroke-width="0.3">26.</text>
<text x="825.00" y="36.00" font-family="Liberation Sans, sans-serif" font-size="12.57" text-anchor="middle" textLength="17.94" lengthAdjust="spacingAndGlyphs" stroke="#000" stroke-width="0.3">7,5</text>
<text x="825.00" y="56.80" font-family="Liberation Sans, sans-serif" font-size="12.57" text-anchor="middle" textLength="14.39" lengthAdjust="spacingAndGlyphs" stroke="#000" stroke-width="0.3">27</text>
<text x="825.00" y="77.00" font-family="Liberation Sans, sans-serif" font-size="12.57" text-anchor="middle" stroke="#000" stroke-width="0.3">S</text>
<text x="855.50" y="14.80" font-family="Liberation Sans, sans-serif" font-size="12.57" text-anchor="middle" textLength="17.98" lengthAdjust="spacingAndGlyphs" stroke="#000" stroke-width="0.3">27.</text>
<text x="855.50" y="36.00" font-family="Liberation Sans, sans-serif" font-size="12.57" text-anchor="middle" textLength="25.13" lengthAdjust="spacingAndGlyphs" stroke="#000" stroke-width="0.3">10,8</text>
<text x="855.50" y="56.80" font-family="Liberation Sans, sans-serif" font-size="12.57" text-anchor="middle" textLength="14.39" lengthAdjust="spacingAndGlyphs" stroke="#000" stroke-width="0.3">39</text>
<text x="855.50" y="77.00" font-family="Liberation Sans, sans-serif" font-size="12.57" text-anchor="middle" textLength="27.73" lengthAdjust="spacingAndGlyphs" stroke="#000" stroke-width="0.3">NNO</text>
<text x="886.00" y="14.80" font-family="Liberation Sans, sans-serif" font-size="12.57" text-anchor="middle" textLength="17.98" lengthAdjust="spacingAndGlyphs" stroke="#000" stroke-width="0.3">28.</text>
<text x="886.00" y="36.00" font-family="Liberation Sans, sans-serif" font-size="12.57" text-anchor="middle" textLength="25.13" lengthAdjust="spacingAndGlyphs" stroke="#000" stroke-width="0.3">10,8</text>
<text x="886.00" y="56.80" font-family="Liberation Sans, sans-serif" font-size="12.57" text-anchor="middle" textLength="14.39" lengthAdjust="spacingAndGlyphs" stroke="#000" stroke-width="0.3">39</text>
<text x="886.00" y="77.00" font-family="Liberation Sans, sans-serif" font-size="12.57" text-anchor="middle" textLength="27.73" lengthAdjust="spacingAndGlyphs" stroke="#000" stroke-width="0.3">NNO</text>
<text x="917.00" y="14.80" font-family="Liberation Sans, sans-serif" font-size="12.57" text-anchor="middle" textLength="17.98" lengthAdjust="spacingAndGlyphs" stroke="#000" stroke-width="0.3">29.</text>
<text x="917.00" y="36.00" font-family="Liberation Sans, sans-serif" font-size="12.57" text-anchor="middle" textLength="17.94" lengthAdjust="spacingAndGlyphs" stroke="#000" stroke-width="0.3">6,9</text>
<text x="917.00" y="56.80" font-family="Liberation Sans, sans-serif" font-size="12.57" text-anchor="middle" textLength="14.39" lengthAdjust="spacingAndGlyphs" stroke="#000" stroke-width="0.3">25</text>
<text x="917.00" y="77.00" font-family="Liberation Sans, sans-serif" font-size="12.57" text-anchor="middle" stroke="#000" stroke-width="0.3">S</text>
<text x="948.00" y="14.80" font-family="Liberation Sans, sans-serif" font-size="12.57" text-anchor="middle" textLength="17.98" lengthAdjust="spacingAndGlyphs" stroke="#000" stroke-width="0.3">30.</text>
<text x="948.00" y="36.00" font-family="Liberation Sans, sans-serif" font-size="12.57" text-anchor="middle" textLength="25.13" lengthAdjust="spacingAndGlyphs" stroke="#000" stroke-width="0.3">11,1</text>
<text x="948.00" y="56.80" font-family="Liberation Sans, sans-serif" font-size="12.57" text-anchor="middle" textLength="14.39" lengthAdjust="spacingAndGlyphs" stroke="#000" stroke-width="0.3">40</text>
<text x="948.00" y="77.00" font-family="Liberation Sans, sans-serif" font-size="12.57" text-anchor="middle" stroke="#000" stroke-width="0.3">S</text>
<text x="979.00" y="14.80" font-family="Liberation Sans, sans-serif" font-size="12.57" text-anchor="middle" textLength="17.98" lengthAdjust="spacingAndGlyphs" stroke="#000" stroke-width="0.3">31.</text>
<text x="979.00" y="36.00" font-family="Liberation Sans, sans-serif" font-size="12.57" text-anchor="middle" textLength="17.94" lengthAdjust="spacingAndGlyphs" stroke="#000" stroke-width="0.3">0,0</text>
<text transform="translate(33.3,49.8) rotate(-90)" font-family="Liberation Sans, sans-serif" font-weight="bold" font-size="10.5" text-anchor="middle" textLength="27" lengthAdjust="spacingAndGlyphs" stroke="#000" stroke-width="0.3">Wind</text>
<text x="1079.45" y="17.00" font-family="Liberation Serif, sans-serif" font-size="17.00" text-anchor="middle" font-weight="bold" stroke="#000" stroke-width="0.1" textLength="76.50" lengthAdjust="spacingAndGlyphs">April 2015</text>
<text x="1006.30" y="35.70" font-family="Liberation Sans, sans-serif" font-size="10.50" text-anchor="middle" stroke="#000" stroke-width="0.25" textLength="14.60" lengthAdjust="spacingAndGlyphs">m/s</text>
<text x="1005.80" y="56.30" font-family="Liberation Sans, sans-serif" font-size="10.50" text-anchor="middle" stroke="#000" stroke-width="0.25" textLength="18.60" lengthAdjust="spacingAndGlyphs">km/h</text>
<text x="1072.80" y="35.70" font-family="Liberation Sans, sans-serif" font-size="11.50" text-anchor="middle" fill="#262626" stroke="#262626" stroke-width="0.25" textLength="40.20" lengthAdjust="spacingAndGlyphs">Maximale</text>
<text x="1072.70" y="52.60" font-family="Liberation Sans, sans-serif" font-size="11.50" text-anchor="middle" fill="#262626" stroke="#262626" stroke-width="0.25" textLength="85.40" lengthAdjust="spacingAndGlyphs">Windgeschwindigkeit</text>
<text x="1146.00" y="35.30" font-family="Liberation Sans, sans-serif" font-size="13.28" text-anchor="middle" textLength="15.21" lengthAdjust="spacingAndGlyphs" stroke="#000" stroke-width="0.3">17</text>
<text x="1146.00" y="56.30" font-family="Liberation Sans, sans-serif" font-size="13.28" text-anchor="middle" textLength="15.21" lengthAdjust="spacingAndGlyphs" stroke="#000" stroke-width="0.3">60</text>
<text x="1004.3" y="77.5" font-family="DejaVu Sans, sans-serif" font-size="15" text-anchor="middle" textLength="9.5" lengthAdjust="spacingAndGlyphs" stroke="#000" stroke-width="0.25">←</text>
<text x="1088.25" y="76.00" font-family="Liberation Sans, sans-serif" font-size="12.00" text-anchor="middle" font-weight="bold" stroke="#000" stroke-width="0.1" textLength="146.10" lengthAdjust="spacingAndGlyphs">Vorherrschende Windrichtung</text>
<rect x="996" y="99" width="168" height="1" fill="#000"/>
<rect x="996" y="120" width="168" height="1" fill="#000"/>
<rect x="996" y="141" width="168" height="1" fill="#000"/>
<rect x="996" y="162" width="168" height="1" fill="#000"/>
<rect x="996" y="183" width="168" height="1" fill="#000"/>
<rect x="996" y="204" width="168" height="1" fill="#000"/>
<rect x="996" y="225" width="168" height="1" fill="#000"/>
<rect x="996" y="246" width="168" height="1" fill="#000"/>
<rect x="996" y="267" width="168" height="1" fill="#000"/>
<rect x="996" y="288" width="168" height="1" fill="#000"/>
<rect x="996" y="328" width="168" height="1" fill="#000"/>
<rect x="996" y="368" width="168" height="1" fill="#000"/>
<rect x="996" y="389" width="168" height="1" fill="#000"/>
<rect x="996" y="410" width="168" height="1" fill="#000"/>
<rect x="996" y="432" width="168" height="1" fill="#000"/>
<rect x="996" y="456" width="168" height="1" fill="#000"/>
<rect x="1128" y="82" width="1" height="415" fill="#000"/>
<rect x="995" y="83" width="1" height="414" fill="#8a8a8a"/>
<rect x="1017" y="82" width="1" height="17" fill="#000"/>
<rect x="1040" y="82" width="1" height="17" fill="#000"/>
<text x="1145.50" y="94.40" font-family="Liberation Sans, sans-serif" font-size="11.00" text-anchor="middle" stroke="#000" stroke-width="0.3" textLength="29.20" lengthAdjust="spacingAndGlyphs">Werte</text>
<text x="1061.50" y="115.10" font-family="Liberation Sans, sans-serif" font-size="12.40" text-anchor="middle" stroke="#000" stroke-width="0.3" textLength="80.60" lengthAdjust="spacingAndGlyphs">Schneefalltage</text>
<text x="1061.00" y="135.70" font-family="Liberation Sans, sans-serif" font-size="12.40" text-anchor="middle" stroke="#000" stroke-width="0.3" textLength="103.60" lengthAdjust="spacingAndGlyphs">Schneedeckentage</text>
<text x="1061.20" y="156.60" font-family="Liberation Serif, sans-serif" font-size="14.20" text-anchor="middle" stroke="#000" stroke-width="0.2" textLength="49.80" lengthAdjust="spacingAndGlyphs">Frosttage</text>
<text x="1061.50" y="177.80" font-family="Liberation Sans, sans-serif" font-size="12.40" text-anchor="middle" stroke="#000" stroke-width="0.3" textLength="38.80" lengthAdjust="spacingAndGlyphs">Eistage</text>
<text x="1061.70" y="198.50" font-family="Liberation Serif, sans-serif" font-size="14.80" text-anchor="middle" stroke="#000" stroke-width="0.15" textLength="96.20" lengthAdjust="spacingAndGlyphs">Niederschlagstage</text>
<text x="1061.05" y="219.60" font-family="Liberation Sans, sans-serif" font-size="12.40" text-anchor="middle" stroke="#000" stroke-width="0.3" textLength="89.10" lengthAdjust="spacingAndGlyphs">Stürmische Tage</text>
<text x="1061.70" y="240.60" font-family="Liberation Sans, sans-serif" font-size="12.40" text-anchor="middle" stroke="#000" stroke-width="0.3" textLength="73.20" lengthAdjust="spacingAndGlyphs">Windige Tage</text>
<text x="1061.10" y="261.50" font-family="Liberation Sans, sans-serif" font-size="12.40" text-anchor="middle" stroke="#000" stroke-width="0.3" textLength="69.40" lengthAdjust="spacingAndGlyphs">Sommertage</text>
<text x="1061.05" y="282.50" font-family="Liberation Sans, sans-serif" font-size="12.40" text-anchor="middle" stroke="#000" stroke-width="0.3" textLength="60.50" lengthAdjust="spacingAndGlyphs">Heiße Tage</text>
<text x="1061.50" y="303.30" font-family="Liberation Sans, sans-serif" font-size="12.40" text-anchor="middle" stroke="#000" stroke-width="0.3" textLength="50.00" lengthAdjust="spacingAndGlyphs">Mittleres</text>
<text x="1061.40" y="323.40" font-family="Liberation Sans, sans-serif" font-size="12.40" text-anchor="middle" stroke="#000" stroke-width="0.3" textLength="85.40" lengthAdjust="spacingAndGlyphs">Tagesmaximum</text>
<text x="1061.50" y="344.10" font-family="Liberation Sans, sans-serif" font-size="12.40" text-anchor="middle" stroke="#000" stroke-width="0.3" textLength="50.00" lengthAdjust="spacingAndGlyphs">Mittleres</text>
<text x="1061.20" y="363.60" font-family="Liberation Sans, sans-serif" font-size="12.40" text-anchor="middle" stroke="#000" stroke-width="0.3" textLength="84.20" lengthAdjust="spacingAndGlyphs">Tagesminimum</text>
<text x="1061.65" y="382.50" font-family="Liberation Sans, sans-serif" font-size="12.60" text-anchor="middle" stroke="#000" stroke-width="0.25" textLength="120.10" lengthAdjust="spacingAndGlyphs">Wärmster Tag im Mittel</text>
<text x="1061.20" y="403.80" font-family="Liberation Sans, sans-serif" font-size="12.60" text-anchor="middle" stroke="#000" stroke-width="0.25" textLength="115.40" lengthAdjust="spacingAndGlyphs">Kältester Tag im Mittel</text>
<text x="1061.80" y="426.10" font-family="Liberation Sans, sans-serif" font-size="12.60" text-anchor="middle" stroke="#000" stroke-width="0.25" textLength="102.80" lengthAdjust="spacingAndGlyphs">Max-Niederschlag</text>
<text x="1061.90" y="449.10" font-family="Liberation Sans, sans-serif" font-size="12.60" text-anchor="middle" stroke="#000" stroke-width="0.25" textLength="67.20" lengthAdjust="spacingAndGlyphs">Gewittertage</text>
<text x="1060.85" y="472.00" font-family="Liberation Sans, sans-serif" font-size="12.60" text-anchor="middle" stroke="#000" stroke-width="0.25" textLength="118.50" lengthAdjust="spacingAndGlyphs">Mitteltemperatur des</text>
<text x="1061.20" y="491.80" font-family="Liberation Sans, sans-serif" font-size="12.60" text-anchor="middle" stroke="#000" stroke-width="0.25" textLength="54.80" lengthAdjust="spacingAndGlyphs">Monats °C</text>
<text x="1146.50" y="115.00" font-family="Liberation Sans, sans-serif" font-size="12.57" text-anchor="middle" stroke="#000" stroke-width="0.3">4</text>
<text x="1146.50" y="135.70" font-family="Liberation Sans, sans-serif" font-size="12.57" text-anchor="middle" stroke="#000" stroke-width="0.3">0</text>
<text x="1146.50" y="156.60" font-family="Liberation Sans, sans-serif" font-size="12.57" text-anchor="middle" textLength="14.39" lengthAdjust="spacingAndGlyphs" stroke="#000" stroke-width="0.3">17</text>
<text x="1146.50" y="177.80" font-family="Liberation Sans, sans-serif" font-size="12.57" text-anchor="middle" stroke="#000" stroke-width="0.3">0</text>
<text x="1146.50" y="198.50" font-family="Liberation Sans, sans-serif" font-size="12.57" text-anchor="middle" textLength="14.39" lengthAdjust="spacingAndGlyphs" stroke="#000" stroke-width="0.3">11</text>
<text x="1146.50" y="219.60" font-family="Liberation Sans, sans-serif" font-size="12.57" text-anchor="middle" stroke="#000" stroke-width="0.3">0</text>
<text x="1146.50" y="240.60" font-family="Liberation Sans, sans-serif" font-size="12.57" text-anchor="middle" textLength="14.39" lengthAdjust="spacingAndGlyphs" stroke="#000" stroke-width="0.3">11</text>
<text x="1146.50" y="261.50" font-family="Liberation Sans, sans-serif" font-size="12.57" text-anchor="middle" stroke="#000" stroke-width="0.3">0</text>
<text x="1146.50" y="282.50" font-family="Liberation Sans, sans-serif" font-size="12.57" text-anchor="middle" stroke="#000" stroke-width="0.3">0</text>
<text x="1146.50" y="312.90" font-family="Liberation Sans, sans-serif" font-size="12.57" text-anchor="middle" textLength="25.13" lengthAdjust="spacingAndGlyphs" stroke="#000" stroke-width="0.3">14,3</text>
<text x="1146.50" y="354.00" font-family="Liberation Sans, sans-serif" font-size="12.57" text-anchor="middle" textLength="17.94" lengthAdjust="spacingAndGlyphs" stroke="#000" stroke-width="0.3">0,2</text>
<text x="1146.50" y="384.30" font-family="Liberation Sans, sans-serif" font-size="12.57" text-anchor="middle" textLength="25.13" lengthAdjust="spacingAndGlyphs" stroke="#000" stroke-width="0.3">14,6</text>
<text x="1146.50" y="405.40" font-family="Liberation Sans, sans-serif" font-size="12.57" text-anchor="middle" textLength="17.94" lengthAdjust="spacingAndGlyphs" stroke="#000" stroke-width="0.3">1,2</text>
<text x="1146.50" y="426.80" font-family="Liberation Sans, sans-serif" font-size="12.57" text-anchor="middle" textLength="25.13" lengthAdjust="spacingAndGlyphs" stroke="#000" stroke-width="0.3">25,8</text>
<text x="1146.50" y="449.50" font-family="Liberation Sans, sans-serif" font-size="12.57" text-anchor="middle" stroke="#000" stroke-width="0.3">1</text>
<text x="1146.50" y="481.90" font-family="Liberation Sans, sans-serif" font-size="12.57" text-anchor="middle" textLength="17.94" lengthAdjust="spacingAndGlyphs" stroke="#000" stroke-width="0.3">7,3</text>
<rect x="0" y="497" width="1165" height="1" fill="#555555"/>
<rect x="1" y="517" width="1163" height="1" fill="#000"/>
<rect x="1" y="538" width="1163" height="1" fill="#000"/>
<rect x="1" y="559" width="36" height="1" fill="#ff0000"/>
<rect x="37" y="559" width="957" height="1" fill="#000"/>
<rect x="994" y="559" width="134" height="1" fill="#ff0000"/>
<rect x="1128" y="559" width="36" height="1" fill="#000"/>
<rect x="1" y="577" width="1163" height="1" fill="#000"/>
<rect x="1" y="595" width="1163" height="1" fill="#000"/>
<rect x="1" y="613" width="1163" height="1" fill="#ff0000"/>
<rect x="1" y="634" width="1163" height="1" fill="#000"/>
<rect x="1" y="655" width="17" height="1" fill="#000"/>
<rect x="37" y="655" width="1127" height="1" fill="#000"/>
<rect x="1" y="676" width="17" height="1" fill="#000"/>
<rect x="37" y="676" width="1127" height="1" fill="#000"/>
<rect x="1" y="697" width="17" height="1" fill="#000"/>
<rect x="37" y="697" width="1127" height="1" fill="#000"/>
<rect x="1" y="717" width="17" height="1" fill="#000"/>
<rect x="37" y="716" width="1128" height="2" fill="#000"/>
<rect x="1" y="738" width="17" height="1" fill="#000"/>
<rect x="37" y="738" width="1127" height="1" fill="#000"/>
<rect x="0" y="759" width="37" height="1" fill="#000"/>
<rect x="37" y="758" width="1128" height="2" fill="#000"/>
<rect x="0" y="783" width="1165" height="1" fill="#000"/>
<rect x="18" y="517" width="2" height="267" fill="#808080"/>
<rect x="37" y="498" width="1" height="261" fill="#000"/>
<rect x="68" y="498" width="1" height="261" fill="#000"/>
<rect x="99" y="498" width="1" height="261" fill="#000"/>
<rect x="130" y="498" width="1" height="261" fill="#000"/>
<rect x="160" y="498" width="1" height="261" fill="#000"/>
<rect x="191" y="498" width="1" height="261" fill="#000"/>
<rect x="222" y="498" width="1" height="261" fill="#000"/>
<rect x="253" y="498" width="1" height="261" fill="#000"/>
<rect x="284" y="498" width="1" height="261" fill="#000"/>
<rect x="315" y="498" width="1" height="261" fill="#000"/>
<rect x="346" y="498" width="1" height="261" fill="#000"/>
<rect x="377" y="498" width="1" height="261" fill="#000"/>
<rect x="407" y="498" width="1" height="261" fill="#000"/>
<rect x="438" y="498" width="1" height="261" fill="#000"/>
<rect x="469" y="498" width="1" height="261" fill="#000"/>
<rect x="500" y="498" width="1" height="261" fill="#000"/>
<rect x="531" y="498" width="1" height="261" fill="#000"/>
<rect x="562" y="498" width="1" height="261" fill="#000"/>
<rect x="593" y="498" width="1" height="261" fill="#000"/>
<rect x="624" y="498" width="1" height="261" fill="#000"/>
<rect x="654" y="498" width="1" height="261" fill="#000"/>
<rect x="685" y="498" width="1" height="261" fill="#000"/>
<rect x="716" y="498" width="1" height="261" fill="#000"/>
<rect x="747" y="498" width="1" height="261" fill="#000"/>
<rect x="778" y="498" width="1" height="261" fill="#000"/>
<rect x="809" y="498" width="1" height="261" fill="#000"/>
<rect x="840" y="498" width="1" height="261" fill="#000"/>
<rect x="870" y="498" width="1" height="261" fill="#000"/>
<rect x="901" y="498" width="1" height="261" fill="#000"/>
<rect x="932" y="498" width="1" height="261" fill="#000"/>
<rect x="963" y="498" width="1" height="261" fill="#000"/>
<rect x="994" y="498" width="1" height="261" fill="#000"/>
<rect x="36" y="716" width="2" height="44" fill="#000"/>
<rect x="1163" y="716" width="2" height="44" fill="#000"/>
<rect x="994" y="498" width="1" height="260" fill="#000"/>
<rect x="1128" y="498" width="1" height="260" fill="#000"/>
<rect x="655" y="759" width="1" height="23" fill="#000"/>
<text x="18.50" y="512.50" font-family="Liberation Sans, sans-serif" font-size="12.57" text-anchor="middle" textLength="20.41" lengthAdjust="spacingAndGlyphs" stroke="#000" stroke-width="0.3">Tag</text>
<text x="53.00" y="512.80" font-family="Liberation Sans, sans-serif" font-size="12.57" text-anchor="middle" textLength="10.78" lengthAdjust="spacingAndGlyphs" stroke="#000" stroke-width="0.3">1.</text>
<text x="84.00" y="512.80" font-family="Liberation Sans, sans-serif" font-size="12.57" text-anchor="middle" textLength="10.78" lengthAdjust="spacingAndGlyphs" stroke="#000" stroke-width="0.3">2.</text>
<text x="115.00" y="512.80" font-family="Liberation Sans, sans-serif" font-size="12.57" text-anchor="middle" textLength="10.78" lengthAdjust="spacingAndGlyphs" stroke="#000" stroke-width="0.3">3.</text>
<text x="145.50" y="512.80" font-family="Liberation Sans, sans-serif" font-size="12.57" text-anchor="middle" textLength="10.78" lengthAdjust="spacingAndGlyphs" stroke="#000" stroke-width="0.3">4.</text>
<text x="176.00" y="512.80" font-family="Liberation Sans, sans-serif" font-size="12.57" text-anchor="middle" textLength="10.78" lengthAdjust="spacingAndGlyphs" stroke="#000" stroke-width="0.3">5.</text>
<text x="207.00" y="512.80" font-family="Liberation Sans, sans-serif" font-size="12.57" text-anchor="middle" textLength="10.78" lengthAdjust="spacingAndGlyphs" stroke="#000" stroke-width="0.3">6.</text>
<text x="238.00" y="512.80" font-family="Liberation Sans, sans-serif" font-size="12.57" text-anchor="middle" textLength="10.78" lengthAdjust="spacingAndGlyphs" stroke="#000" stroke-width="0.3">7.</text>
<text x="269.00" y="512.80" font-family="Liberation Sans, sans-serif" font-size="12.57" text-anchor="middle" textLength="10.78" lengthAdjust="spacingAndGlyphs" stroke="#000" stroke-width="0.3">8.</text>
<text x="300.00" y="512.80" font-family="Liberation Sans, sans-serif" font-size="12.57" text-anchor="middle" textLength="10.78" lengthAdjust="spacingAndGlyphs" stroke="#000" stroke-width="0.3">9.</text>
<text x="331.00" y="512.80" font-family="Liberation Sans, sans-serif" font-size="12.57" text-anchor="middle" textLength="17.98" lengthAdjust="spacingAndGlyphs" stroke="#000" stroke-width="0.3">10.</text>
<text x="362.00" y="512.80" font-family="Liberation Sans, sans-serif" font-size="12.57" text-anchor="middle" textLength="17.98" lengthAdjust="spacingAndGlyphs" stroke="#000" stroke-width="0.3">11.</text>
<text x="392.50" y="512.80" font-family="Liberation Sans, sans-serif" font-size="12.57" text-anchor="middle" textLength="17.98" lengthAdjust="spacingAndGlyphs" stroke="#000" stroke-width="0.3">12.</text>
<text x="423.00" y="512.80" font-family="Liberation Sans, sans-serif" font-size="12.57" text-anchor="middle" textLength="17.98" lengthAdjust="spacingAndGlyphs" stroke="#000" stroke-width="0.3">13.</text>
<text x="454.00" y="512.80" font-family="Liberation Sans, sans-serif" font-size="12.57" text-anchor="middle" textLength="17.98" lengthAdjust="spacingAndGlyphs" stroke="#000" stroke-width="0.3">14.</text>
<text x="485.00" y="512.80" font-family="Liberation Sans, sans-serif" font-size="12.57" text-anchor="middle" textLength="17.98" lengthAdjust="spacingAndGlyphs" stroke="#000" stroke-width="0.3">15.</text>
<text x="516.00" y="512.80" font-family="Liberation Sans, sans-serif" font-size="12.57" text-anchor="middle" textLength="17.98" lengthAdjust="spacingAndGlyphs" stroke="#000" stroke-width="0.3">16.</text>
<text x="547.00" y="512.80" font-family="Liberation Sans, sans-serif" font-size="12.57" text-anchor="middle" textLength="17.98" lengthAdjust="spacingAndGlyphs" stroke="#000" stroke-width="0.3">17.</text>
<text x="578.00" y="512.80" font-family="Liberation Sans, sans-serif" font-size="12.57" text-anchor="middle" textLength="17.98" lengthAdjust="spacingAndGlyphs" stroke="#000" stroke-width="0.3">18.</text>
<text x="609.00" y="512.80" font-family="Liberation Sans, sans-serif" font-size="12.57" text-anchor="middle" textLength="17.98" lengthAdjust="spacingAndGlyphs" stroke="#000" stroke-width="0.3">19.</text>
<text x="639.50" y="512.80" font-family="Liberation Sans, sans-serif" font-size="12.57" text-anchor="middle" textLength="17.98" lengthAdjust="spacingAndGlyphs" stroke="#000" stroke-width="0.3">20.</text>
<text x="670.00" y="512.80" font-family="Liberation Sans, sans-serif" font-size="12.57" text-anchor="middle" textLength="17.98" lengthAdjust="spacingAndGlyphs" stroke="#000" stroke-width="0.3">21.</text>
<text x="701.00" y="512.80" font-family="Liberation Sans, sans-serif" font-size="12.57" text-anchor="middle" textLength="17.98" lengthAdjust="spacingAndGlyphs" stroke="#000" stroke-width="0.3">22.</text>
<text x="732.00" y="512.80" font-family="Liberation Sans, sans-serif" font-size="12.57" text-anchor="middle" textLength="17.98" lengthAdjust="spacingAndGlyphs" stroke="#000" stroke-width="0.3">23.</text>
<text x="763.00" y="512.80" font-family="Liberation Sans, sans-serif" font-size="12.57" text-anchor="middle" textLength="17.98" lengthAdjust="spacingAndGlyphs" stroke="#000" stroke-width="0.3">24.</text>
<text x="794.00" y="512.80" font-family="Liberation Sans, sans-serif" font-size="12.57" text-anchor="middle" textLength="17.98" lengthAdjust="spacingAndGlyphs" stroke="#000" stroke-width="0.3">25.</text>
<text x="825.00" y="512.80" font-family="Liberation Sans, sans-serif" font-size="12.57" text-anchor="middle" textLength="17.98" lengthAdjust="spacingAndGlyphs" stroke="#000" stroke-width="0.3">26.</text>
<text x="855.50" y="512.80" font-family="Liberation Sans, sans-serif" font-size="12.57" text-anchor="middle" textLength="17.98" lengthAdjust="spacingAndGlyphs" stroke="#000" stroke-width="0.3">27.</text>
<text x="886.00" y="512.80" font-family="Liberation Sans, sans-serif" font-size="12.57" text-anchor="middle" textLength="17.98" lengthAdjust="spacingAndGlyphs" stroke="#000" stroke-width="0.3">28.</text>
<text x="917.00" y="512.80" font-family="Liberation Sans, sans-serif" font-size="12.57" text-anchor="middle" textLength="17.98" lengthAdjust="spacingAndGlyphs" stroke="#000" stroke-width="0.3">29.</text>
<text x="948.00" y="512.80" font-family="Liberation Sans, sans-serif" font-size="12.57" text-anchor="middle" textLength="17.98" lengthAdjust="spacingAndGlyphs" stroke="#000" stroke-width="0.3">30.</text>
<text x="979.00" y="512.80" font-family="Liberation Sans, sans-serif" font-size="12.57" text-anchor="middle" textLength="17.98" lengthAdjust="spacingAndGlyphs" stroke="#000" stroke-width="0.3">31.</text>
<text x="66.00" y="534.00" font-family="Liberation Sans, sans-serif" font-size="12.57" text-anchor="end" textLength="22.28" lengthAdjust="spacingAndGlyphs" stroke="#000" stroke-width="0.3">-0,5</text>
<text x="66.00" y="554.80" font-family="Liberation Sans, sans-serif" font-size="12.57" text-anchor="end" textLength="17.94" lengthAdjust="spacingAndGlyphs" stroke="#000" stroke-width="0.3">1,9</text>
<text x="66.00" y="572.80" font-family="Liberation Sans, sans-serif" font-size="12.57" text-anchor="end" textLength="17.94" lengthAdjust="spacingAndGlyphs" stroke="#000" stroke-width="0.3">7,1</text>
<text x="66.00" y="590.90" font-family="Liberation Sans, sans-serif" font-size="12.57" text-anchor="end" textLength="17.94" lengthAdjust="spacingAndGlyphs" stroke="#000" stroke-width="0.3">0,6</text>
<text x="66.00" y="608.80" font-family="Liberation Sans, sans-serif" font-size="12.57" text-anchor="end" textLength="17.94" lengthAdjust="spacingAndGlyphs" stroke="#000" stroke-width="0.3">3,9</text>
<text x="97.00" y="534.00" font-family="Liberation Sans, sans-serif" font-size="12.57" text-anchor="end" textLength="22.28" lengthAdjust="spacingAndGlyphs" stroke="#000" stroke-width="0.3">-2,4</text>
<text x="97.00" y="554.80" font-family="Liberation Sans, sans-serif" font-size="12.57" text-anchor="end" textLength="17.94" lengthAdjust="spacingAndGlyphs" stroke="#000" stroke-width="0.3">9,4</text>
<text x="97.00" y="572.80" font-family="Liberation Sans, sans-serif" font-size="12.57" text-anchor="end" textLength="17.94" lengthAdjust="spacingAndGlyphs" stroke="#000" stroke-width="0.3">5,8</text>
<text x="97.00" y="590.90" font-family="Liberation Sans, sans-serif" font-size="12.57" text-anchor="end" textLength="22.28" lengthAdjust="spacingAndGlyphs" stroke="#000" stroke-width="0.3">-0,3</text>
<text x="97.00" y="608.80" font-family="Liberation Sans, sans-serif" font-size="12.57" text-anchor="end" textLength="17.94" lengthAdjust="spacingAndGlyphs" stroke="#000" stroke-width="0.3">2,8</text>
<text x="128.00" y="534.00" font-family="Liberation Sans, sans-serif" font-size="12.57" text-anchor="end" textLength="22.28" lengthAdjust="spacingAndGlyphs" stroke="#000" stroke-width="0.3">-3,2</text>
<text x="128.00" y="554.80" font-family="Liberation Sans, sans-serif" font-size="12.57" text-anchor="end" textLength="17.94" lengthAdjust="spacingAndGlyphs" stroke="#000" stroke-width="0.3">0,1</text>
<text x="128.00" y="572.80" font-family="Liberation Sans, sans-serif" font-size="12.57" text-anchor="end" textLength="17.94" lengthAdjust="spacingAndGlyphs" stroke="#000" stroke-width="0.3">8,3</text>
<text x="128.00" y="590.90" font-family="Liberation Sans, sans-serif" font-size="12.57" text-anchor="end" textLength="22.28" lengthAdjust="spacingAndGlyphs" stroke="#000" stroke-width="0.3">-1,5</text>
<text x="128.00" y="608.80" font-family="Liberation Sans, sans-serif" font-size="12.57" text-anchor="end" textLength="17.94" lengthAdjust="spacingAndGlyphs" stroke="#000" stroke-width="0.3">3,4</text>
<text x="158.00" y="534.00" font-family="Liberation Sans, sans-serif" font-size="12.57" text-anchor="end" textLength="22.28" lengthAdjust="spacingAndGlyphs" stroke="#000" stroke-width="0.3">-5,2</text>
<text x="158.00" y="572.80" font-family="Liberation Sans, sans-serif" font-size="12.57" text-anchor="end" stroke="#000" stroke-width="0.3">8</text>
<text x="158.00" y="590.90" font-family="Liberation Sans, sans-serif" font-size="12.57" text-anchor="end" textLength="22.28" lengthAdjust="spacingAndGlyphs" stroke="#000" stroke-width="0.3">-2,9</text>
<text x="158.00" y="608.80" font-family="Liberation Sans, sans-serif" font-size="12.57" text-anchor="end" textLength="17.94" lengthAdjust="spacingAndGlyphs" stroke="#000" stroke-width="0.3">2,6</text>
<text x="189.00" y="534.00" font-family="Liberation Sans, sans-serif" font-size="12.57" text-anchor="end" textLength="22.28" lengthAdjust="spacingAndGlyphs" stroke="#000" stroke-width="0.3">-6,9</text>
<text x="189.00" y="572.80" font-family="Liberation Sans, sans-serif" font-size="12.57" text-anchor="end" textLength="17.94" lengthAdjust="spacingAndGlyphs" stroke="#000" stroke-width="0.3">7,2</text>
<text x="189.00" y="590.90" font-family="Liberation Sans, sans-serif" font-size="12.57" text-anchor="end" textLength="22.28" lengthAdjust="spacingAndGlyphs" stroke="#000" stroke-width="0.3">-4,9</text>
<text x="189.00" y="608.80" font-family="Liberation Sans, sans-serif" font-size="12.57" text-anchor="end" textLength="17.94" lengthAdjust="spacingAndGlyphs" stroke="#000" stroke-width="0.3">1,2</text>
<text x="220.00" y="534.00" font-family="Liberation Sans, sans-serif" font-size="12.57" text-anchor="end" textLength="22.28" lengthAdjust="spacingAndGlyphs" stroke="#000" stroke-width="0.3">-5,7</text>
<text x="220.00" y="572.80" font-family="Liberation Sans, sans-serif" font-size="12.57" text-anchor="end" textLength="17.94" lengthAdjust="spacingAndGlyphs" stroke="#000" stroke-width="0.3">7,7</text>
<text x="220.00" y="590.90" font-family="Liberation Sans, sans-serif" font-size="12.57" text-anchor="end" textLength="22.28" lengthAdjust="spacingAndGlyphs" stroke="#000" stroke-width="0.3">-3,9</text>
<text x="220.00" y="608.80" font-family="Liberation Sans, sans-serif" font-size="12.57" text-anchor="end" textLength="17.94" lengthAdjust="spacingAndGlyphs" stroke="#000" stroke-width="0.3">1,9</text>
<text x="251.00" y="534.00" font-family="Liberation Sans, sans-serif" font-size="12.57" text-anchor="end" textLength="22.28" lengthAdjust="spacingAndGlyphs" stroke="#000" stroke-width="0.3">-7,7</text>
<text x="251.00" y="572.80" font-family="Liberation Sans, sans-serif" font-size="12.57" text-anchor="end" textLength="25.13" lengthAdjust="spacingAndGlyphs" stroke="#000" stroke-width="0.3">10,9</text>
<text x="251.00" y="590.90" font-family="Liberation Sans, sans-serif" font-size="12.57" text-anchor="end" textLength="22.28" lengthAdjust="spacingAndGlyphs" stroke="#000" stroke-width="0.3">-5,4</text>
<text x="251.00" y="608.80" font-family="Liberation Sans, sans-serif" font-size="12.57" text-anchor="end" textLength="17.94" lengthAdjust="spacingAndGlyphs" stroke="#000" stroke-width="0.3">2,8</text>
<text x="282.00" y="534.00" font-family="Liberation Sans, sans-serif" font-size="12.57" text-anchor="end" textLength="22.28" lengthAdjust="spacingAndGlyphs" stroke="#000" stroke-width="0.3">-3,6</text>
<text x="282.00" y="572.80" font-family="Liberation Sans, sans-serif" font-size="12.57" text-anchor="end" textLength="25.13" lengthAdjust="spacingAndGlyphs" stroke="#000" stroke-width="0.3">12,8</text>
<text x="282.00" y="590.90" font-family="Liberation Sans, sans-serif" font-size="12.57" text-anchor="end" textLength="22.28" lengthAdjust="spacingAndGlyphs" stroke="#000" stroke-width="0.3">-2,9</text>
<text x="282.00" y="608.80" font-family="Liberation Sans, sans-serif" font-size="12.57" text-anchor="end" textLength="17.94" lengthAdjust="spacingAndGlyphs" stroke="#000" stroke-width="0.3">5,0</text>
<text x="313.00" y="572.80" font-family="Liberation Sans, sans-serif" font-size="12.57" text-anchor="end" textLength="25.13" lengthAdjust="spacingAndGlyphs" stroke="#000" stroke-width="0.3">14,5</text>
<text x="313.00" y="590.90" font-family="Liberation Sans, sans-serif" font-size="12.57" text-anchor="end" textLength="17.94" lengthAdjust="spacingAndGlyphs" stroke="#000" stroke-width="0.3">2,4</text>
<text x="313.00" y="608.80" font-family="Liberation Sans, sans-serif" font-size="12.57" text-anchor="end" textLength="17.94" lengthAdjust="spacingAndGlyphs" stroke="#000" stroke-width="0.3">8,5</text>
<text x="344.00" y="534.00" font-family="Liberation Sans, sans-serif" font-size="12.57" text-anchor="end" textLength="22.28" lengthAdjust="spacingAndGlyphs" stroke="#000" stroke-width="0.3">-1,9</text>
<text x="344.00" y="572.80" font-family="Liberation Sans, sans-serif" font-size="12.57" text-anchor="end" textLength="25.13" lengthAdjust="spacingAndGlyphs" stroke="#000" stroke-width="0.3">20,0</text>
<text x="344.00" y="590.90" font-family="Liberation Sans, sans-serif" font-size="12.57" text-anchor="end" textLength="22.28" lengthAdjust="spacingAndGlyphs" stroke="#000" stroke-width="0.3">-0,2</text>
<text x="344.00" y="608.80" font-family="Liberation Sans, sans-serif" font-size="12.57" text-anchor="end" textLength="17.94" lengthAdjust="spacingAndGlyphs" stroke="#000" stroke-width="0.3">9,9</text>
<text x="375.00" y="554.80" font-family="Liberation Sans, sans-serif" font-size="12.57" text-anchor="end" textLength="17.94" lengthAdjust="spacingAndGlyphs" stroke="#000" stroke-width="0.3">0,1</text>
<text x="375.00" y="572.80" font-family="Liberation Sans, sans-serif" font-size="12.57" text-anchor="end" textLength="25.13" lengthAdjust="spacingAndGlyphs" stroke="#000" stroke-width="0.3">16,4</text>
<text x="375.00" y="590.90" font-family="Liberation Sans, sans-serif" font-size="12.57" text-anchor="end" textLength="17.94" lengthAdjust="spacingAndGlyphs" stroke="#000" stroke-width="0.3">2,7</text>
<text x="375.00" y="608.80" font-family="Liberation Sans, sans-serif" font-size="12.57" text-anchor="end" textLength="17.94" lengthAdjust="spacingAndGlyphs" stroke="#000" stroke-width="0.3">9,6</text>
<text x="405.00" y="572.80" font-family="Liberation Sans, sans-serif" font-size="12.57" text-anchor="end" textLength="25.13" lengthAdjust="spacingAndGlyphs" stroke="#000" stroke-width="0.3">16,6</text>
<text x="405.00" y="590.90" font-family="Liberation Sans, sans-serif" font-size="12.57" text-anchor="end" textLength="17.94" lengthAdjust="spacingAndGlyphs" stroke="#000" stroke-width="0.3">5,5</text>
<text x="405.00" y="608.80" font-family="Liberation Sans, sans-serif" font-size="12.57" text-anchor="end" textLength="25.13" lengthAdjust="spacingAndGlyphs" stroke="#000" stroke-width="0.3">11,1</text>
<text x="436.00" y="534.00" font-family="Liberation Sans, sans-serif" font-size="12.57" text-anchor="end" textLength="22.28" lengthAdjust="spacingAndGlyphs" stroke="#000" stroke-width="0.3">-1,9</text>
<text x="436.00" y="572.80" font-family="Liberation Sans, sans-serif" font-size="12.57" text-anchor="end" textLength="25.13" lengthAdjust="spacingAndGlyphs" stroke="#000" stroke-width="0.3">13,6</text>
<text x="436.00" y="590.90" font-family="Liberation Sans, sans-serif" font-size="12.57" text-anchor="end" textLength="22.28" lengthAdjust="spacingAndGlyphs" stroke="#000" stroke-width="0.3">-0,1</text>
<text x="436.00" y="608.80" font-family="Liberation Sans, sans-serif" font-size="12.57" text-anchor="end" textLength="17.94" lengthAdjust="spacingAndGlyphs" stroke="#000" stroke-width="0.3">6,8</text>
<text x="467.00" y="534.00" font-family="Liberation Sans, sans-serif" font-size="12.57" text-anchor="end" textLength="22.28" lengthAdjust="spacingAndGlyphs" stroke="#000" stroke-width="0.3">-4,0</text>
<text x="467.00" y="572.80" font-family="Liberation Sans, sans-serif" font-size="12.57" text-anchor="end" textLength="25.13" lengthAdjust="spacingAndGlyphs" stroke="#000" stroke-width="0.3">17,2</text>
<text x="467.00" y="590.90" font-family="Liberation Sans, sans-serif" font-size="12.57" text-anchor="end" textLength="22.28" lengthAdjust="spacingAndGlyphs" stroke="#000" stroke-width="0.3">-2,1</text>
<text x="467.00" y="608.80" font-family="Liberation Sans, sans-serif" font-size="12.57" text-anchor="end" textLength="17.94" lengthAdjust="spacingAndGlyphs" stroke="#000" stroke-width="0.3">7,6</text>
<text x="498.00" y="572.80" font-family="Liberation Sans, sans-serif" font-size="12.57" text-anchor="end" textLength="25.13" lengthAdjust="spacingAndGlyphs" stroke="#000" stroke-width="0.3">22,7</text>
<text x="498.00" y="590.90" font-family="Liberation Sans, sans-serif" font-size="12.57" text-anchor="end" textLength="17.94" lengthAdjust="spacingAndGlyphs" stroke="#000" stroke-width="0.3">5,5</text>
<text x="498.00" y="608.80" font-family="Liberation Sans, sans-serif" font-size="12.57" text-anchor="end" textLength="25.13" lengthAdjust="spacingAndGlyphs" stroke="#000" stroke-width="0.3">14,1</text>
<text x="529.00" y="572.80" font-family="Liberation Sans, sans-serif" font-size="12.57" text-anchor="end" textLength="25.13" lengthAdjust="spacingAndGlyphs" stroke="#000" stroke-width="0.3">21,3</text>
<text x="529.00" y="590.90" font-family="Liberation Sans, sans-serif" font-size="12.57" text-anchor="end" textLength="17.94" lengthAdjust="spacingAndGlyphs" stroke="#000" stroke-width="0.3">3,9</text>
<text x="529.00" y="608.80" font-family="Liberation Sans, sans-serif" font-size="12.57" text-anchor="end" textLength="25.13" lengthAdjust="spacingAndGlyphs" stroke="#000" stroke-width="0.3">12,6</text>
<text x="560.00" y="534.00" font-family="Liberation Sans, sans-serif" font-size="12.57" text-anchor="end" textLength="22.28" lengthAdjust="spacingAndGlyphs" stroke="#000" stroke-width="0.3">-3,1</text>
<text x="560.00" y="572.80" font-family="Liberation Sans, sans-serif" font-size="12.57" text-anchor="end" textLength="25.13" lengthAdjust="spacingAndGlyphs" stroke="#000" stroke-width="0.3">12,6</text>
<text x="560.00" y="590.90" font-family="Liberation Sans, sans-serif" font-size="12.57" text-anchor="end" textLength="22.28" lengthAdjust="spacingAndGlyphs" stroke="#000" stroke-width="0.3">-0,7</text>
<text x="560.00" y="608.80" font-family="Liberation Sans, sans-serif" font-size="12.57" text-anchor="end" textLength="17.94" lengthAdjust="spacingAndGlyphs" stroke="#000" stroke-width="0.3">6,0</text>
<text x="591.00" y="534.00" font-family="Liberation Sans, sans-serif" font-size="12.57" text-anchor="end" textLength="22.28" lengthAdjust="spacingAndGlyphs" stroke="#000" stroke-width="0.3">-5,2</text>
<text x="591.00" y="572.80" font-family="Liberation Sans, sans-serif" font-size="12.57" text-anchor="end" textLength="25.13" lengthAdjust="spacingAndGlyphs" stroke="#000" stroke-width="0.3">10,3</text>
<text x="591.00" y="590.90" font-family="Liberation Sans, sans-serif" font-size="12.57" text-anchor="end" textLength="22.28" lengthAdjust="spacingAndGlyphs" stroke="#000" stroke-width="0.3">-3,1</text>
<text x="591.00" y="608.80" font-family="Liberation Sans, sans-serif" font-size="12.57" text-anchor="end" textLength="17.94" lengthAdjust="spacingAndGlyphs" stroke="#000" stroke-width="0.3">3,6</text>
<text x="622.00" y="534.00" font-family="Liberation Sans, sans-serif" font-size="12.57" text-anchor="end" textLength="22.28" lengthAdjust="spacingAndGlyphs" stroke="#000" stroke-width="0.3">-6,1</text>
<text x="622.00" y="572.80" font-family="Liberation Sans, sans-serif" font-size="12.57" text-anchor="end" textLength="25.13" lengthAdjust="spacingAndGlyphs" stroke="#000" stroke-width="0.3">15,3</text>
<text x="622.00" y="590.90" font-family="Liberation Sans, sans-serif" font-size="12.57" text-anchor="end" textLength="22.28" lengthAdjust="spacingAndGlyphs" stroke="#000" stroke-width="0.3">-4,2</text>
<text x="622.00" y="608.80" font-family="Liberation Sans, sans-serif" font-size="12.57" text-anchor="end" textLength="17.94" lengthAdjust="spacingAndGlyphs" stroke="#000" stroke-width="0.3">5,6</text>
<text x="652.00" y="534.00" font-family="Liberation Sans, sans-serif" font-size="12.57" text-anchor="end" textLength="22.28" lengthAdjust="spacingAndGlyphs" stroke="#000" stroke-width="0.3">-3,7</text>
<text x="652.00" y="572.80" font-family="Liberation Sans, sans-serif" font-size="12.57" text-anchor="end" textLength="25.13" lengthAdjust="spacingAndGlyphs" stroke="#000" stroke-width="0.3">17,0</text>
<text x="652.00" y="590.90" font-family="Liberation Sans, sans-serif" font-size="12.57" text-anchor="end" textLength="22.28" lengthAdjust="spacingAndGlyphs" stroke="#000" stroke-width="0.3">-1,6</text>
<text x="652.00" y="608.80" font-family="Liberation Sans, sans-serif" font-size="12.57" text-anchor="end" textLength="17.94" lengthAdjust="spacingAndGlyphs" stroke="#000" stroke-width="0.3">7,7</text>
<text x="683.00" y="534.00" font-family="Liberation Sans, sans-serif" font-size="12.57" text-anchor="end" textLength="22.28" lengthAdjust="spacingAndGlyphs" stroke="#000" stroke-width="0.3">-2,7</text>
<text x="683.00" y="572.80" font-family="Liberation Sans, sans-serif" font-size="12.57" text-anchor="end" textLength="25.13" lengthAdjust="spacingAndGlyphs" stroke="#000" stroke-width="0.3">20,5</text>
<text x="683.00" y="590.90" font-family="Liberation Sans, sans-serif" font-size="12.57" text-anchor="end" textLength="22.28" lengthAdjust="spacingAndGlyphs" stroke="#000" stroke-width="0.3">-0,5</text>
<text x="683.00" y="608.80" font-family="Liberation Sans, sans-serif" font-size="12.57" text-anchor="end" textLength="25.13" lengthAdjust="spacingAndGlyphs" stroke="#000" stroke-width="0.3">10,0</text>
<text x="714.00" y="534.00" font-family="Liberation Sans, sans-serif" font-size="12.57" text-anchor="end" textLength="22.28" lengthAdjust="spacingAndGlyphs" stroke="#000" stroke-width="0.3">-2,8</text>
<text x="714.00" y="554.80" font-family="Liberation Sans, sans-serif" font-size="12.57" text-anchor="end" textLength="17.94" lengthAdjust="spacingAndGlyphs" stroke="#000" stroke-width="0.3">0,9</text>
<text x="714.00" y="572.80" font-family="Liberation Sans, sans-serif" font-size="12.57" text-anchor="end" textLength="25.13" lengthAdjust="spacingAndGlyphs" stroke="#000" stroke-width="0.3">11,9</text>
<text x="714.00" y="590.90" font-family="Liberation Sans, sans-serif" font-size="12.57" text-anchor="end" textLength="22.28" lengthAdjust="spacingAndGlyphs" stroke="#000" stroke-width="0.3">-0,3</text>
<text x="714.00" y="608.80" font-family="Liberation Sans, sans-serif" font-size="12.57" text-anchor="end" textLength="17.94" lengthAdjust="spacingAndGlyphs" stroke="#000" stroke-width="0.3">5,8</text>
<text x="745.00" y="534.00" font-family="Liberation Sans, sans-serif" font-size="12.57" text-anchor="end" textLength="22.28" lengthAdjust="spacingAndGlyphs" stroke="#000" stroke-width="0.3">-0,2</text>
<text x="745.00" y="554.80" font-family="Liberation Sans, sans-serif" font-size="12.57" text-anchor="end" textLength="17.94" lengthAdjust="spacingAndGlyphs" stroke="#000" stroke-width="0.3">0,3</text>
<text x="745.00" y="572.80" font-family="Liberation Sans, sans-serif" font-size="12.57" text-anchor="end" textLength="25.13" lengthAdjust="spacingAndGlyphs" stroke="#000" stroke-width="0.3">14,5</text>
<text x="745.00" y="590.90" font-family="Liberation Sans, sans-serif" font-size="12.57" text-anchor="end" textLength="17.94" lengthAdjust="spacingAndGlyphs" stroke="#000" stroke-width="0.3">1,0</text>
<text x="745.00" y="608.80" font-family="Liberation Sans, sans-serif" font-size="12.57" text-anchor="end" textLength="17.94" lengthAdjust="spacingAndGlyphs" stroke="#000" stroke-width="0.3">7,8</text>
<text x="776.00" y="534.00" font-family="Liberation Sans, sans-serif" font-size="12.57" text-anchor="end" textLength="22.28" lengthAdjust="spacingAndGlyphs" stroke="#000" stroke-width="0.3">-2,5</text>
<text x="776.00" y="572.80" font-family="Liberation Sans, sans-serif" font-size="12.57" text-anchor="end" textLength="25.13" lengthAdjust="spacingAndGlyphs" stroke="#000" stroke-width="0.3">18,5</text>
<text x="776.00" y="590.90" font-family="Liberation Sans, sans-serif" font-size="12.57" text-anchor="end" textLength="17.94" lengthAdjust="spacingAndGlyphs" stroke="#000" stroke-width="0.3">1,0</text>
<text x="776.00" y="608.80" font-family="Liberation Sans, sans-serif" font-size="12.57" text-anchor="end" textLength="17.94" lengthAdjust="spacingAndGlyphs" stroke="#000" stroke-width="0.3">9,8</text>
<text x="807.00" y="534.00" font-family="Liberation Sans, sans-serif" font-size="12.57" text-anchor="end" textLength="22.28" lengthAdjust="spacingAndGlyphs" stroke="#000" stroke-width="0.3">-1,5</text>
<text x="807.00" y="554.80" font-family="Liberation Sans, sans-serif" font-size="12.57" text-anchor="end" textLength="17.94" lengthAdjust="spacingAndGlyphs" stroke="#000" stroke-width="0.3">0,7</text>
<text x="807.00" y="572.80" font-family="Liberation Sans, sans-serif" font-size="12.57" text-anchor="end" textLength="25.13" lengthAdjust="spacingAndGlyphs" stroke="#000" stroke-width="0.3">17,8</text>
<text x="807.00" y="590.90" font-family="Liberation Sans, sans-serif" font-size="12.57" text-anchor="end" textLength="17.94" lengthAdjust="spacingAndGlyphs" stroke="#000" stroke-width="0.3">1,3</text>
<text x="807.00" y="608.80" font-family="Liberation Sans, sans-serif" font-size="12.57" text-anchor="end" textLength="17.94" lengthAdjust="spacingAndGlyphs" stroke="#000" stroke-width="0.3">9,6</text>
<text x="838.00" y="554.80" font-family="Liberation Sans, sans-serif" font-size="12.57" text-anchor="end" textLength="17.94" lengthAdjust="spacingAndGlyphs" stroke="#000" stroke-width="0.3">1,2</text>
<text x="838.00" y="572.80" font-family="Liberation Sans, sans-serif" font-size="12.57" text-anchor="end" textLength="25.13" lengthAdjust="spacingAndGlyphs" stroke="#000" stroke-width="0.3">20,1</text>
<text x="838.00" y="590.90" font-family="Liberation Sans, sans-serif" font-size="12.57" text-anchor="end" textLength="17.94" lengthAdjust="spacingAndGlyphs" stroke="#000" stroke-width="0.3">8,1</text>
<text x="838.00" y="608.80" font-family="Liberation Sans, sans-serif" font-size="12.57" text-anchor="end" textLength="25.13" lengthAdjust="spacingAndGlyphs" stroke="#000" stroke-width="0.3">14,1</text>
<text x="868.00" y="554.80" font-family="Liberation Sans, sans-serif" font-size="12.57" text-anchor="end" textLength="17.94" lengthAdjust="spacingAndGlyphs" stroke="#000" stroke-width="0.3">0,1</text>
<text x="868.00" y="572.80" font-family="Liberation Sans, sans-serif" font-size="12.57" text-anchor="end" textLength="25.13" lengthAdjust="spacingAndGlyphs" stroke="#000" stroke-width="0.3">21,4</text>
<text x="868.00" y="590.90" font-family="Liberation Sans, sans-serif" font-size="12.57" text-anchor="end" textLength="17.94" lengthAdjust="spacingAndGlyphs" stroke="#000" stroke-width="0.3">7,8</text>
<text x="868.00" y="608.80" font-family="Liberation Sans, sans-serif" font-size="12.57" text-anchor="end" textLength="25.13" lengthAdjust="spacingAndGlyphs" stroke="#000" stroke-width="0.3">14,6</text>
<text x="899.00" y="534.00" font-family="Liberation Sans, sans-serif" font-size="12.57" text-anchor="end" textLength="22.28" lengthAdjust="spacingAndGlyphs" stroke="#000" stroke-width="0.3">-0,7</text>
<text x="899.00" y="554.80" font-family="Liberation Sans, sans-serif" font-size="12.57" text-anchor="end" textLength="25.13" lengthAdjust="spacingAndGlyphs" stroke="#000" stroke-width="0.3">25,8</text>
<text x="899.00" y="572.80" font-family="Liberation Sans, sans-serif" font-size="12.57" text-anchor="end" textLength="25.13" lengthAdjust="spacingAndGlyphs" stroke="#000" stroke-width="0.3">10,8</text>
<text x="899.00" y="590.90" font-family="Liberation Sans, sans-serif" font-size="12.57" text-anchor="end" textLength="17.94" lengthAdjust="spacingAndGlyphs" stroke="#000" stroke-width="0.3">1,7</text>
<text x="899.00" y="608.80" font-family="Liberation Sans, sans-serif" font-size="12.57" text-anchor="end" textLength="17.94" lengthAdjust="spacingAndGlyphs" stroke="#000" stroke-width="0.3">6,3</text>
<text x="930.00" y="534.00" font-family="Liberation Sans, sans-serif" font-size="12.57" text-anchor="end" textLength="22.28" lengthAdjust="spacingAndGlyphs" stroke="#000" stroke-width="0.3">-3,4</text>
<text x="930.00" y="572.80" font-family="Liberation Sans, sans-serif" font-size="12.57" text-anchor="end" textLength="25.13" lengthAdjust="spacingAndGlyphs" stroke="#000" stroke-width="0.3">14,5</text>
<text x="930.00" y="590.90" font-family="Liberation Sans, sans-serif" font-size="12.57" text-anchor="end" textLength="22.28" lengthAdjust="spacingAndGlyphs" stroke="#000" stroke-width="0.3">-1,3</text>
<text x="930.00" y="608.80" font-family="Liberation Sans, sans-serif" font-size="12.57" text-anchor="end" textLength="17.94" lengthAdjust="spacingAndGlyphs" stroke="#000" stroke-width="0.3">6,6</text>
<text x="961.00" y="534.00" font-family="Liberation Sans, sans-serif" font-size="12.57" text-anchor="end" textLength="22.28" lengthAdjust="spacingAndGlyphs" stroke="#000" stroke-width="0.3">-0,6</text>
<text x="961.00" y="554.80" font-family="Liberation Sans, sans-serif" font-size="12.57" text-anchor="end" textLength="17.94" lengthAdjust="spacingAndGlyphs" stroke="#000" stroke-width="0.3">2,6</text>
<text x="961.00" y="572.80" font-family="Liberation Sans, sans-serif" font-size="12.57" text-anchor="end" textLength="25.13" lengthAdjust="spacingAndGlyphs" stroke="#000" stroke-width="0.3">14,7</text>
<text x="961.00" y="590.90" font-family="Liberation Sans, sans-serif" font-size="12.57" text-anchor="end" textLength="17.94" lengthAdjust="spacingAndGlyphs" stroke="#000" stroke-width="0.3">1,7</text>
<text x="961.00" y="608.80" font-family="Liberation Sans, sans-serif" font-size="12.57" text-anchor="end" textLength="17.94" lengthAdjust="spacingAndGlyphs" stroke="#000" stroke-width="0.3">8,2</text>
<text x="28.00" y="534.00" font-family="Liberation Sans, sans-serif" font-size="12.57" text-anchor="middle" textLength="12.38" lengthAdjust="spacingAndGlyphs" stroke="#000" stroke-width="0.3">°C</text>
<text x="28.00" y="572.80" font-family="Liberation Sans, sans-serif" font-size="12.57" text-anchor="middle" textLength="12.38" lengthAdjust="spacingAndGlyphs" stroke="#000" stroke-width="0.3">°C</text>
<text x="28.00" y="590.90" font-family="Liberation Sans, sans-serif" font-size="12.57" text-anchor="middle" textLength="12.38" lengthAdjust="spacingAndGlyphs" stroke="#000" stroke-width="0.3">°C</text>
<text x="28.00" y="608.80" font-family="Liberation Sans, sans-serif" font-size="12.57" text-anchor="middle" textLength="12.38" lengthAdjust="spacingAndGlyphs" stroke="#000" stroke-width="0.3">°C</text>
<text x="28.00" y="553.00" font-family="Liberation Sans, sans-serif" font-size="8.50" text-anchor="middle" textLength="11.61" lengthAdjust="spacingAndGlyphs" stroke="#000" stroke-width="0.25">l/m²</text>
<text x="53.00" y="650.70" font-family="Liberation Sans, sans-serif" font-size="11.95" text-anchor="middle" stroke="#000" stroke-width="0.3">B</text>
<text x="53.00" y="671.80" font-family="Liberation Sans, sans-serif" font-size="11.95" text-anchor="middle" stroke="#000" stroke-width="0.3">R</text>
<text x="53.00" y="711.50" font-family="Liberation Sans, sans-serif" font-size="11.95" text-anchor="middle" stroke="#000" stroke-width="0.3">S</text>
<text x="84.00" y="650.70" font-family="Liberation Sans, sans-serif" font-size="11.95" text-anchor="middle" stroke="#000" stroke-width="0.3">B</text>
<text x="84.00" y="711.50" font-family="Liberation Sans, sans-serif" font-size="11.95" text-anchor="middle" stroke="#000" stroke-width="0.3">S</text>
<text x="115.00" y="650.70" font-family="Liberation Sans, sans-serif" font-size="11.95" text-anchor="middle" stroke="#000" stroke-width="0.3">H</text>
<text x="115.00" y="711.50" font-family="Liberation Sans, sans-serif" font-size="11.95" text-anchor="middle" stroke="#000" stroke-width="0.3">S</text>
<text x="145.50" y="650.70" font-family="Liberation Sans, sans-serif" font-size="11.95" text-anchor="middle" stroke="#000" stroke-width="0.3">B</text>
<text x="176.00" y="650.70" font-family="Liberation Sans, sans-serif" font-size="11.95" text-anchor="middle" stroke="#000" stroke-width="0.3">H</text>
<text x="207.00" y="650.70" font-family="Liberation Sans, sans-serif" font-size="11.95" text-anchor="middle" stroke="#000" stroke-width="0.3">B</text>
<text x="238.00" y="650.70" font-family="Liberation Sans, sans-serif" font-size="11.95" text-anchor="middle" stroke="#000" stroke-width="0.3">H</text>
<text x="269.00" y="650.70" font-family="Liberation Sans, sans-serif" font-size="11.95" text-anchor="middle" stroke="#000" stroke-width="0.3">H</text>
<text x="300.00" y="650.70" font-family="Liberation Sans, sans-serif" font-size="11.95" text-anchor="middle" stroke="#000" stroke-width="0.3">H</text>
<text x="300.00" y="711.50" font-family="Liberation Sans, sans-serif" font-size="11.95" text-anchor="middle" stroke="#000" stroke-width="0.3">S</text>
<text x="331.00" y="650.70" font-family="Liberation Sans, sans-serif" font-size="11.95" text-anchor="middle" stroke="#000" stroke-width="0.3">H</text>
<text x="362.00" y="650.70" font-family="Liberation Sans, sans-serif" font-size="11.95" text-anchor="middle" stroke="#000" stroke-width="0.3">B</text>
<text x="362.00" y="671.80" font-family="Liberation Sans, sans-serif" font-size="11.95" text-anchor="middle" stroke="#000" stroke-width="0.3">R</text>
<text x="392.50" y="650.70" font-family="Liberation Sans, sans-serif" font-size="11.95" text-anchor="middle" stroke="#000" stroke-width="0.3">H</text>
<text x="423.00" y="650.70" font-family="Liberation Sans, sans-serif" font-size="11.95" text-anchor="middle" stroke="#000" stroke-width="0.3">B</text>
<text x="454.00" y="650.70" font-family="Liberation Sans, sans-serif" font-size="11.95" text-anchor="middle" stroke="#000" stroke-width="0.3">H</text>
<text x="485.00" y="650.70" font-family="Liberation Sans, sans-serif" font-size="11.95" text-anchor="middle" stroke="#000" stroke-width="0.3">H</text>
<text x="516.00" y="650.70" font-family="Liberation Sans, sans-serif" font-size="11.95" text-anchor="middle" stroke="#000" stroke-width="0.3">H</text>
<text x="547.00" y="650.70" font-family="Liberation Sans, sans-serif" font-size="11.95" text-anchor="middle" stroke="#000" stroke-width="0.3">B</text>
<text x="578.00" y="650.70" font-family="Liberation Sans, sans-serif" font-size="11.95" text-anchor="middle" stroke="#000" stroke-width="0.3">H</text>
<text x="609.00" y="650.70" font-family="Liberation Sans, sans-serif" font-size="11.95" text-anchor="middle" stroke="#000" stroke-width="0.3">H</text>
<text x="639.50" y="650.70" font-family="Liberation Sans, sans-serif" font-size="11.95" text-anchor="middle" stroke="#000" stroke-width="0.3">H</text>
<text x="670.00" y="650.70" font-family="Liberation Sans, sans-serif" font-size="11.95" text-anchor="middle" stroke="#000" stroke-width="0.3">H</text>
<text x="701.00" y="650.70" font-family="Liberation Sans, sans-serif" font-size="11.95" text-anchor="middle" stroke="#000" stroke-width="0.3">H</text>
<text x="701.00" y="671.80" font-family="Liberation Sans, sans-serif" font-size="11.95" text-anchor="middle" stroke="#000" stroke-width="0.3">R</text>
<text x="732.00" y="650.70" font-family="Liberation Sans, sans-serif" font-size="11.95" text-anchor="middle" stroke="#000" stroke-width="0.3">B</text>
<text x="732.00" y="671.80" font-family="Liberation Sans, sans-serif" font-size="11.95" text-anchor="middle" stroke="#000" stroke-width="0.3">R</text>
<text x="763.00" y="650.70" font-family="Liberation Sans, sans-serif" font-size="11.95" text-anchor="middle" stroke="#000" stroke-width="0.3">H</text>
<text x="794.00" y="650.70" font-family="Liberation Sans, sans-serif" font-size="11.95" text-anchor="middle" stroke="#000" stroke-width="0.3">B</text>
<text x="794.00" y="671.80" font-family="Liberation Sans, sans-serif" font-size="11.95" text-anchor="middle" stroke="#000" stroke-width="0.3">R</text>
<text x="825.00" y="650.70" font-family="Liberation Sans, sans-serif" font-size="11.95" text-anchor="middle" stroke="#000" stroke-width="0.3">H</text>
<text x="825.00" y="671.80" font-family="Liberation Sans, sans-serif" font-size="11.95" text-anchor="middle" stroke="#000" stroke-width="0.3">R</text>
<text x="855.50" y="650.70" font-family="Liberation Sans, sans-serif" font-size="11.95" text-anchor="middle" stroke="#000" stroke-width="0.3">B</text>
<text x="855.50" y="671.80" font-family="Liberation Sans, sans-serif" font-size="11.95" text-anchor="middle" stroke="#000" stroke-width="0.3">R</text>
<text x="855.50" y="692.40" font-family="Liberation Sans, sans-serif" font-size="11.95" text-anchor="middle" stroke="#000" stroke-width="0.3">G</text>
<text x="886.00" y="650.70" font-family="Liberation Sans, sans-serif" font-size="11.95" text-anchor="middle" stroke="#000" stroke-width="0.3">B</text>
<text x="886.00" y="671.80" font-family="Liberation Sans, sans-serif" font-size="11.95" text-anchor="middle" stroke="#000" stroke-width="0.3">R</text>
<text x="917.00" y="650.70" font-family="Liberation Sans, sans-serif" font-size="11.95" text-anchor="middle" stroke="#000" stroke-width="0.3">H</text>
<text x="948.00" y="650.70" font-family="Liberation Sans, sans-serif" font-size="11.95" text-anchor="middle" stroke="#000" stroke-width="0.3">B</text>
<text x="948.00" y="671.80" font-family="Liberation Sans, sans-serif" font-size="11.95" text-anchor="middle" stroke="#000" stroke-width="0.3">R</text>
<text transform="translate(33.5,696.5) rotate(-90)" font-family="Liberation Sans, sans-serif" font-size="12.5" text-anchor="middle" textLength="40" lengthAdjust="spacingAndGlyphs" stroke="#000" stroke-width="0.05">Wetter</text>
<text x="1017" y="534.5" font-family="DejaVu Sans, sans-serif" font-size="15" text-anchor="middle" textLength="10.5" lengthAdjust="spacingAndGlyphs" stroke="#000" stroke-width="0.25">←</text>
<text x="1068.45" y="532.50" font-family="Liberation Sans, sans-serif" font-size="12.40" text-anchor="middle" stroke="#000" stroke-width="0.3" textLength="84.30" lengthAdjust="spacingAndGlyphs">Bodenfrosttage</text>
<text x="1061.90" y="553.20" font-family="Liberation Sans, sans-serif" font-size="12.40" text-anchor="middle" stroke="#000" stroke-width="0.3" textLength="116.40" lengthAdjust="spacingAndGlyphs">Niederschlag - Monat</text>
<text x="1061.75" y="572.30" font-family="Liberation Sans, sans-serif" font-size="12.40" text-anchor="middle" stroke="#000" stroke-width="0.3" textLength="112.90" lengthAdjust="spacingAndGlyphs">Höchste-Temperatur</text>
<text x="1061.55" y="590.50" font-family="Liberation Sans, sans-serif" font-size="12.40" text-anchor="middle" stroke="#000" stroke-width="0.3" textLength="125.90" lengthAdjust="spacingAndGlyphs">Niedrigste-Temperatur</text>
<text x="1061.30" y="607.70" font-family="Liberation Sans, sans-serif" font-size="12.40" text-anchor="middle" stroke="#000" stroke-width="0.25" textLength="58.40" lengthAdjust="spacingAndGlyphs">Tagesmittel</text>
<text x="1061.25" y="628.80" font-family="Liberation Sans, sans-serif" font-size="12.80" text-anchor="middle" stroke="#000" stroke-width="0.25" textLength="72.90" lengthAdjust="spacingAndGlyphs">Kältesumme</text>
<text x="1061.70" y="649.30" font-family="Liberation Sans, sans-serif" font-size="12.40" text-anchor="middle" stroke="#000" stroke-width="0.3" textLength="86.40" lengthAdjust="spacingAndGlyphs">Min-Bodenfrost</text>
<text x="1146.50" y="532.50" font-family="Liberation Sans, sans-serif" font-size="12.57" text-anchor="middle" textLength="14.39" lengthAdjust="spacingAndGlyphs" stroke="#000" stroke-width="0.3">23</text>
<text x="1146.50" y="553.20" font-family="Liberation Sans, sans-serif" font-size="12.57" text-anchor="middle" textLength="25.13" lengthAdjust="spacingAndGlyphs" stroke="#000" stroke-width="0.3">43,1</text>
<text x="1146.50" y="572.30" font-family="Liberation Sans, sans-serif" font-size="12.57" text-anchor="middle" textLength="25.13" lengthAdjust="spacingAndGlyphs" stroke="#000" stroke-width="0.3">22,7</text>
<text x="1146.50" y="590.50" font-family="Liberation Sans, sans-serif" font-size="12.57" text-anchor="middle" textLength="22.28" lengthAdjust="spacingAndGlyphs" stroke="#000" stroke-width="0.3">-5,4</text>
<text x="1146.50" y="607.70" font-family="Liberation Sans, sans-serif" font-size="12.57" text-anchor="middle" textLength="17.94" lengthAdjust="spacingAndGlyphs" stroke="#000" stroke-width="0.3">7,3</text>
<text x="1146.50" y="628.80" font-family="Liberation Sans, sans-serif" font-size="12.57" text-anchor="middle" textLength="17.94" lengthAdjust="spacingAndGlyphs" stroke="#000" stroke-width="0.3">0,0</text>
<text x="1146.50" y="649.30" font-family="Liberation Sans, sans-serif" font-size="12.57" text-anchor="middle" textLength="22.28" lengthAdjust="spacingAndGlyphs" stroke="#000" stroke-width="0.3">-7,7</text>
<text x="1061.20" y="670.60" font-family="Liberation Sans, sans-serif" font-size="11.90" text-anchor="middle" font-weight="bold" stroke="#000" stroke-width="0.1" textLength="118.60" lengthAdjust="spacingAndGlyphs">Mittel 1961-1990 in °C</text>
<text x="1060.20" y="692.00" font-family="Liberation Serif, sans-serif" font-size="11.80" text-anchor="middle" font-weight="bold" fill="#ff0000" stroke="#ff0000" stroke-width="0.1" textLength="128.00" lengthAdjust="spacingAndGlyphs">Abweichung v. Mittel in °C</text>
<text x="1146.55" y="671.10" font-family="Liberation Serif, sans-serif" font-size="14.00" text-anchor="middle" font-weight="bold" stroke="#000" stroke-width="0.1" textLength="17.70" lengthAdjust="spacingAndGlyphs">6,9</text>
<text x="1146.55" y="692.40" font-family="Liberation Serif, sans-serif" font-size="14.80" text-anchor="middle" font-weight="bold" fill="#ff0000" stroke="#ff0000" stroke-width="0.1" textLength="17.70" lengthAdjust="spacingAndGlyphs">0,4</text>
<text x="1146.75" y="711.90" font-family="Liberation Serif, sans-serif" font-size="12.00" text-anchor="middle" font-weight="bold" stroke="#000" stroke-width="0.1" textLength="20.70" lengthAdjust="spacingAndGlyphs">Max</text>
<text x="1061.75" y="732.50" font-family="Liberation Serif, sans-serif" font-size="15.00" text-anchor="middle" stroke="#000" stroke-width="0.15" textLength="108.70" lengthAdjust="spacingAndGlyphs">Schneedecke -   SH</text>
<text x="1062.25" y="753.20" font-family="Liberation Serif, sans-serif" font-size="15.00" text-anchor="middle" stroke="#000" stroke-width="0.15" textLength="121.90" lengthAdjust="spacingAndGlyphs">Neuschneehöhe- NSH</text>
<text x="1147.10" y="734.00" font-family="Liberation Serif, sans-serif" font-size="12.90" text-anchor="middle" font-weight="bold" stroke="#000" stroke-width="0.1">0</text>
<text x="1147.10" y="754.80" font-family="Liberation Serif, sans-serif" font-size="12.90" text-anchor="middle" font-weight="bold" stroke="#000" stroke-width="0.1">0</text>
<text x="137.30" y="775.80" font-family="Liberation Serif, sans-serif" font-size="14.30" textLength="355.30" lengthAdjust="spacingAndGlyphs" stroke="#000" stroke-width="0.15">Datenerfassung:  Standort -  95496  Glashütten, Altenhimmelstr. 37 -</text>
<text x="518.15" y="775.80" font-family="Liberation Serif, sans-serif" font-size="14.00" text-anchor="middle" font-weight="bold" fill="#558ed5" stroke="#558ed5" stroke-width="0.1" textLength="45.90" lengthAdjust="spacingAndGlyphs">Schneef</text>
<text x="745.30" y="775.80" font-family="Liberation Serif, sans-serif" font-size="14.30" textLength="327.80" lengthAdjust="spacingAndGlyphs" stroke="#000" stroke-width="0.15">Koordinaten:  49° 52' 48' Nord,   11° 27' 04'' Ost   439 m ü. NN</text></svg>
</body></html>
